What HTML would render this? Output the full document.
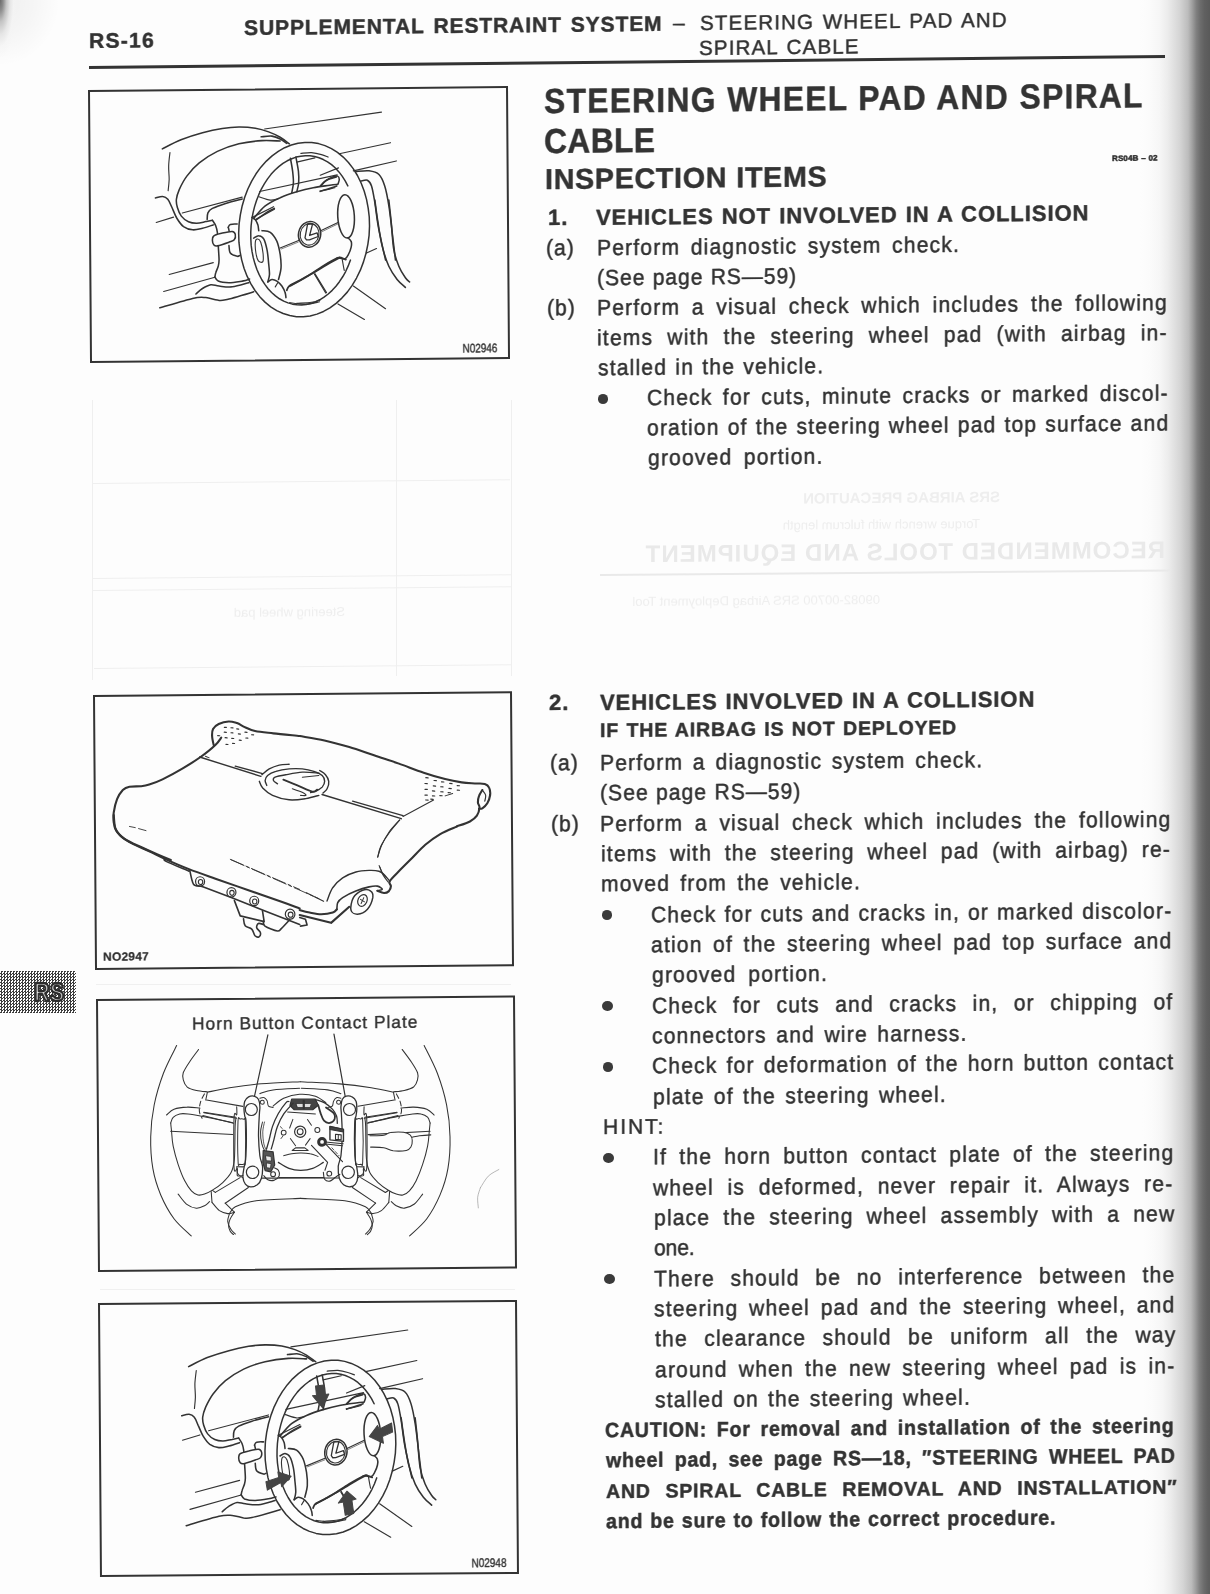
<!DOCTYPE html>
<html><head><meta charset="utf-8"><title>RS-16</title>
<style>
html,body{margin:0;padding:0;overflow:hidden;}
html{width:1210px;height:1594px;background:#fdfdfd;}
body{width:1210px;height:1594px;position:relative;background:#fdfdfd;font-family:"Liberation Sans",sans-serif;}
#pg{position:absolute;left:0;top:0;width:1210px;height:1594px;overflow:hidden;background:#fdfdfd;filter:grayscale(1);}
.t{position:absolute;white-space:pre;transform-origin:0 0;color:#333;-webkit-text-stroke:0.42px #333;}
.bl{position:absolute;width:10.6px;height:9.8px;border-radius:50%;background:#3a3a3a;}
.fig{position:absolute;border:2px solid #333;transform-origin:0 0;box-sizing:content-box;}
.fig svg{position:absolute;left:0;top:0;width:100%;height:100%;overflow:visible}
.rule{position:absolute;left:89.3px;top:66.1px;width:1076.2px;height:2.6px;background:#333;transform-origin:0 0;transform:matrix(1,-0.01013,0,1,0,0);}
.gut{position:absolute;left:1140px;top:-10px;width:90px;height:1620px;transform-origin:0 0;transform:matrix(1,0,0.0022,1,-0.6,0);background:linear-gradient(90deg,rgba(253,253,253,0) 0px,#fbfbfb 10px,#f6f6f6 20px,#ececec 28px,#d5d5d5 40px,#bcbcbc 48.5px,#a0a0a0 52.6px,#808080 56.8px,#6c6c6c 61px,#606060 65px,#5a5a5a 70px,#585858 90px);}
.cor{position:absolute;left:0;top:0;width:90px;height:100px;background:radial-gradient(ellipse 17px 58px at 0 0,#6a6a6a 0%,#8c8c8c 18%,#c4c4c4 38%,#e6e6e6 60%,rgba(244,244,244,.6) 80%,rgba(253,253,253,0) 100%),radial-gradient(ellipse 60px 66px at 0 0,rgba(0,0,0,.06) 0%,rgba(0,0,0,.03) 55%,rgba(0,0,0,0) 100%);}
.gh{position:absolute;color:#eeeeee;white-space:pre;transform-origin:0 0;}
.gl{position:absolute;background:#efefef;transform-origin:0 0;}
.tab{position:absolute;left:0;top:971.3px;width:76px;height:41.6px;background-color:#909090;background-image:repeating-conic-gradient(#3c3c3c 0% 25%,#fff 0% 50%);background-size:3px 3px;}
.tab svg{position:absolute;left:0;top:0;width:76px;height:41.6px;overflow:visible}
</style></head><body>
<div id="pg">
<div class="gut"></div>
<div class="cor"></div>
<div class="ghost" style="filter:blur(0.7px)">
<div class="gl" style="left:92px;top:483px;width:418px;height:1px;transform:matrix(1,-0.009,0,1,0,0)"></div>
<div class="gl" style="left:93px;top:578px;width:418px;height:1px;transform:matrix(1,-0.009,0,1,0,0)"></div>
<div class="gl" style="left:93px;top:590px;width:418px;height:1px;transform:matrix(1,-0.009,0,1,0,0)"></div>
<div class="gl" style="left:94px;top:668px;width:418px;height:1px;transform:matrix(1,-0.009,0,1,0,0)"></div>
<div class="gl" style="left:92px;top:400px;width:1px;height:280px"></div>
<div class="gl" style="left:396px;top:400px;width:1px;height:276px"></div>
<div class="gl" style="left:511px;top:400px;width:1px;height:276px"></div>
<div class="gl" style="left:600px;top:574px;width:570px;height:1.5px;transform:matrix(1,-0.008,0,1,0,0);background:#e9e9e9"></div>
<div class="gh" style="left:1165px;top:536px;font-size:24px;font-weight:bold;letter-spacing:1px;transform:matrix(-1,0.008,0,1,0,0);color:#e9e9e9">RECOMMENDED TOOLS AND EQUIPMENT</div>
<div class="gh" style="left:1000px;top:488px;font-size:15px;font-weight:bold;transform:matrix(-1,0.008,0,1,0,0)">SRS AIRBAG PRECAUTION</div>
<div class="gh" style="left:980px;top:516px;font-size:13px;transform:matrix(-1,0.008,0,1,0,0)">Torque wrench with fulcrum length</div>
<div class="gh" style="left:880px;top:592px;font-size:13px;transform:matrix(-1,0.008,0,1,0,0)">09082-00700 SRS Airbag Deployment Tool</div>
<div class="gh" style="left:345px;top:604px;font-size:13px;transform:matrix(-1,0.008,0,1,0,0)">Steering wheel pad</div>
<div class="gl" style="left:100px;top:1289px;width:415px;height:1px;background:#f0f0f0"></div>
<div class="gl" style="left:96px;top:984px;width:415px;height:1px;background:#f0f0f0"></div>
</div>
<div class="rule"></div>
<div class="fig" style="left:88.3px;top:89.9px;width:415.6px;height:269.0px;transform:matrix(1,-0.0096,0.0074,1,0,0)"><svg viewBox="0 0 415.6 269.0" stroke-linecap="round" stroke-linejoin="round"><path d="M278.0,146.0L276.7,155.0L274.8,163.9L272.2,172.5L269.0,180.8L265.1,188.6L260.7,195.9L255.8,202.6L250.3,208.5L244.5,213.7L238.3,218.2L231.9,221.7L225.3,224.3L218.5,226.1L211.6,226.8L204.8,226.7L198.1,225.5L191.5,223.4L185.1,220.4L179.1,216.6L173.4,211.8L168.2,206.3L163.5,200.1L159.3,193.2L155.7,185.7L152.7,177.7L150.4,169.3L148.8,160.5L147.8,151.6L147.6,142.5L148.1,133.4L149.4,124.3L151.3,115.4L153.9,106.8L157.1,98.5L161.0,90.7L165.4,83.4L170.3,76.8L175.8,70.8L181.6,65.6L187.8,61.2L194.2,57.6L200.9,55.0L207.6,53.3L214.5,52.5L221.3,52.7L228.1,53.8L234.6,55.9L241.0,58.9L247.0,62.8L252.7,67.5L257.9,73.0L262.6,79.2L266.8,86.1L270.4,93.6L273.4,101.6L275.7,110.0L277.3,118.8L278.3,127.7L278.5,136.8L278.0,146.0Z" fill="none" stroke="#333" stroke-width="1.5"/><path d="M259.2,170.6L256.9,176.4L254.3,182.0L251.3,187.2L248.0,192.1L244.5,196.6L240.7,200.7L236.7,204.3L232.5,207.4L228.2,210.0L223.7,212.1L219.2,213.6L214.6,214.6L210.0,215.0L205.4,214.8L200.8,214.1L196.4,212.8L192.1,211.0L187.9,208.6L183.9,205.7L180.1,202.3L176.6,198.4L173.4,194.1L170.4,189.4L167.8,184.3L165.5,178.9L163.6,173.2L162.0,167.2L160.8,161.0L160.0,154.7L159.7,148.3L159.7,141.8L160.1,135.3L160.9,128.8L162.1,122.4L163.7,116.2L165.7,110.1L168.0,104.3L170.6,98.7L173.6,93.5L176.9,88.6L180.4,84.1L184.2,80.1L188.2,76.5L192.4,73.3L196.7,70.7L201.2,68.7L205.7,67.1L210.3,66.2L214.9,65.8L219.5,65.9L224.1,66.6L228.5,67.9L232.8,69.8L237.0,72.1L241.0,75.0L244.8,78.4L248.3,82.3L251.5,86.6L254.5,91.3L257.1,96.4" fill="none" stroke="#333" stroke-width="1.5"/><path d="M71.9,57.6C75.0,56.1 83.9,51.3 90.6,48.7C97.4,46.1 105.3,43.7 112.2,41.9C119.1,40.1 126.0,38.7 132.0,37.8C138.1,36.9 143.1,36.5 148.6,36.5C154.1,36.5 160.2,37.0 165.1,37.8C170.1,38.6 174.2,40.0 178.3,41.6C182.4,43.1 186.4,45.1 189.8,47.1C193.3,49.2 197.4,52.7 198.9,53.8" fill="none" stroke="#333" stroke-width="1.55" /><path d="M170.8,46.5C172.6,46.4 178.4,45.5 181.6,45.9C184.7,46.3 187.3,47.5 189.8,48.8C192.3,50.0 195.3,52.6 196.4,53.3" fill="none" stroke="#333" stroke-width="1.55" /><path d="M189.8,50.9C186.8,50.8 178.5,49.9 171.6,50.3C164.7,50.7 155.9,51.6 148.5,53.3C141.0,55.1 133.6,57.5 126.9,60.6C120.3,63.7 113.8,67.9 108.7,72.0C103.5,76.1 99.5,80.7 96.2,85.1C92.8,89.5 90.4,94.4 88.6,98.2C86.9,102.1 85.9,105.1 85.6,108.1C85.2,111.1 85.7,113.6 86.5,116.4C87.3,119.2 88.6,122.6 90.4,125.0C92.2,127.4 94.9,129.5 97.5,130.7C100.0,131.9 102.8,132.3 105.7,132.3C108.6,132.3 112.2,131.2 114.8,130.7C117.5,130.2 120.4,129.7 121.5,129.5" fill="none" stroke="#333" stroke-width="1.55" /><path d="M64.6,106.6C65.8,106.4 70.0,104.9 72.0,105.2C74.1,105.4 75.5,106.2 77.0,108.0C78.5,109.9 79.6,113.2 81.1,116.3C82.5,119.5 84.0,123.9 85.9,127.1C87.8,130.3 89.9,133.5 92.5,135.5C95.1,137.4 98.4,138.5 101.6,138.8C104.7,139.2 108.0,138.1 111.5,137.3C114.9,136.5 120.5,134.6 122.2,134.1" fill="none" stroke="#333" stroke-width="1.55" /><path d="M79.5,61.4C79.2,63.7 78.2,70.5 78.1,75.0C77.9,79.4 78.6,84.1 78.5,88.2C78.3,92.3 77.6,97.6 77.4,99.4" fill="none" stroke="#333" stroke-width="1.15" /><path d="M91.4,121.9L151.4,106.6" fill="none" stroke="#333" stroke-width="1.15" /><path d="M168.8,101.1L246.6,85.2" fill="none" stroke="#333" stroke-width="1.15" /><path d="M116.2,128.6C116.3,127.5 116.2,123.8 117.0,122.0C117.9,120.1 118.6,119.1 121.5,117.6C124.5,116.0 129.8,114.2 134.8,112.7C139.8,111.2 148.6,109.1 151.4,108.4" fill="none" stroke="#333" stroke-width="1.55" /><path d="M65.2,131.1L82.6,125.9" fill="none" stroke="#333" stroke-width="1.15" /><path d="M121.5,129.5C122.0,130.4 123.9,132.9 124.7,134.9C125.5,137.0 125.9,138.3 126.3,141.6C126.7,144.9 126.8,150.2 127.1,154.8C127.3,159.4 127.8,165.9 127.8,169.3C127.7,172.8 127.5,173.3 126.9,175.5C126.3,177.6 124.9,180.3 124.4,182.0C123.8,183.8 123.7,185.5 123.5,186.2" fill="none" stroke="#333" stroke-width="1.55" /><path d="M137.1,136.7C137.5,136.2 137.8,134.3 139.3,133.8C140.8,133.2 145.1,133.5 146.2,133.5" fill="none" stroke="#333" stroke-width="1.55" /><path d="M137.4,137.0L138.2,140.9" fill="none" stroke="#333" stroke-width="1.55" /><path d="M137.8,154.9C138.0,156.1 137.7,160.5 139.1,162.3C140.4,164.2 144.4,165.3 146.0,165.7C147.5,166.1 148.1,165.1 148.5,164.9" fill="none" stroke="#333" stroke-width="1.55" /><path d="M121.3,149.8C121.3,148.3 121.0,146.4 122.7,145.2C124.3,143.9 128.2,143.2 131.3,142.4C134.4,141.7 139.1,140.7 141.2,140.9C143.4,141.1 143.8,142.3 144.2,143.7C144.5,145.1 144.2,147.9 143.1,149.2C142.1,150.5 140.6,150.6 137.8,151.6C135.0,152.6 128.8,154.7 126.2,155.1C123.7,155.5 123.4,154.8 122.6,153.9C121.8,153.0 121.3,151.2 121.3,149.8Z" fill="#fdfdfd" stroke="#333" stroke-width="1.55" /><path d="M199.9,68.2C200.3,70.4 201.5,77.1 202.0,81.1C202.4,85.2 202.9,89.1 202.7,92.7C202.6,96.3 201.3,101.0 201.0,102.6" fill="none" stroke="#333" stroke-width="1.55" /><path d="M205.4,67.1C205.8,69.5 207.3,76.9 207.8,81.2C208.2,85.5 208.3,89.3 208.0,92.8C207.7,96.2 206.3,100.3 206.0,101.8" fill="none" stroke="#333" stroke-width="1.55" /><path d="M210.4,63.4C212.2,63.3 217.7,62.6 221.1,62.8C224.6,63.1 228.3,64.1 231.0,64.9C233.8,65.7 236.5,67.0 237.6,67.4" fill="none" stroke="#333" stroke-width="1.15" /><path d="M162.8,127.9C164.7,125.8 170.0,119.0 174.4,115.6C178.9,112.2 184.1,109.7 189.4,107.5C194.6,105.2 200.4,103.4 206.0,101.8C211.5,100.2 217.0,98.9 222.5,97.9C228.0,96.8 235.1,96.1 239.1,95.5C243.1,95.0 245.3,94.9 246.5,94.8" fill="none" stroke="#333" stroke-width="1.6" /><path d="M165.3,129.5C166.8,128.5 171.4,124.9 174.4,123.0C177.4,121.1 182.0,119.0 183.5,118.1" fill="none" stroke="#333" stroke-width="1.55" /><path d="M229.1,101.2C230.5,101.0 234.9,100.2 237.4,99.7C239.9,99.1 242.9,98.3 244.0,98.1" fill="none" stroke="#333" stroke-width="1.15" /><path d="M230.0,96.3C230.9,95.3 233.2,92.0 235.8,90.5C238.4,89.1 244.1,87.9 245.7,87.3" fill="none" stroke="#333" stroke-width="1.55" /><path d="M168.2,106.4C170.1,107.0 176.3,109.5 179.5,109.8C182.6,110.2 185.7,108.9 186.9,108.8" fill="none" stroke="#333" stroke-width="1.15" /><path d="M206.2,72.1L224.4,68.1" fill="none" stroke="#333" stroke-width="1.15" /><path d="M174.3,38.7L291.3,23.0" fill="none" stroke="#333" stroke-width="1.15" /><path d="M248.8,64.2L300.1,53.6" fill="none" stroke="#333" stroke-width="1.15" /><path d="M262.7,81.4L305.8,71.9" fill="none" stroke="#333" stroke-width="1.15" /><path d="M229.6,96.3C230.4,95.5 232.5,92.9 234.5,91.4C236.6,89.9 239.9,88.1 242.0,87.3C244.1,86.5 245.9,86.1 247.0,86.5C248.1,86.9 248.6,88.5 248.6,89.8C248.7,91.2 247.5,93.7 247.3,94.5" fill="none" stroke="#333" stroke-width="1.55" /><path d="M229.5,101.6C231.0,101.1 235.9,99.7 238.6,98.8C241.4,98.0 244.8,96.8 246.1,96.4" fill="none" stroke="#333" stroke-width="1.55" /><ellipse cx="255.1" cy="126.8" rx="8.3" ry="21.7" transform="rotate(-3 255.1 126.8)" fill="none" stroke="#333" stroke-width="1.55"/><path d="M270.1,91.7C271.2,91.6 274.9,90.1 276.7,90.9C278.5,91.8 279.6,93.0 280.8,96.8C282.0,100.5 282.9,106.7 284.0,113.3C285.0,119.9 285.9,129.3 287.1,136.5C288.3,143.7 289.9,150.6 291.1,156.4C292.3,162.1 293.8,168.5 294.3,170.9" fill="none" stroke="#333" stroke-width="1.55" /><path d="M265.2,82.1C267.4,82.0 274.6,81.0 278.4,81.5C282.3,82.1 285.7,82.7 288.3,85.3C290.9,87.8 292.4,91.6 294.0,96.9C295.6,102.1 296.8,109.0 298.0,116.8C299.2,124.5 300.1,134.2 301.1,143.2C302.1,152.3 303.7,166.4 304.2,171.0" fill="none" stroke="#333" stroke-width="1.55" /><path d="M123.5,186.2C124.1,186.9 124.5,189.3 126.8,190.3C129.1,191.3 133.5,192.0 137.5,192.1C141.5,192.1 147.3,191.1 150.8,190.6C154.2,190.0 157.0,189.0 158.2,188.6" fill="none" stroke="#333" stroke-width="1.55" /><path d="M77.8,183.2L122.0,171.8" fill="none" stroke="#333" stroke-width="1.15" /><path d="M72.2,200.2L123.5,186.5" fill="none" stroke="#333" stroke-width="1.15" /><path d="M68.2,216.5C73.7,215.0 93.4,209.1 101.0,207.4C108.7,205.8 110.1,206.4 114.3,206.7C118.4,207.1 122.5,208.9 125.8,209.3C129.1,209.7 128.0,210.4 134.1,209.1C140.2,207.8 157.6,202.7 162.2,201.4" fill="none" stroke="#333" stroke-width="1.55" /><path d="M104.4,203.0C105.5,202.1 108.5,199.1 111.0,197.6C113.5,196.1 116.6,194.3 119.3,193.9C122.1,193.5 124.0,194.9 127.6,195.3C131.2,195.7 135.8,196.8 140.8,196.2C145.8,195.7 154.6,192.9 157.4,192.3" fill="none" stroke="#333" stroke-width="1.55" /><path d="M171.0,140.3C172.3,140.6 176.7,140.3 179.2,142.1C181.7,143.9 184.1,147.5 185.8,151.2C187.4,155.0 188.3,160.1 189.0,164.5C189.6,168.9 190.0,173.6 189.7,177.7C189.4,181.8 187.6,187.3 187.1,189.3" fill="none" stroke="#333" stroke-width="1.55" /><path d="M162.6,147.7C163.5,147.3 166.0,145.1 167.6,145.3C169.3,145.4 171.2,146.3 172.6,148.6C173.9,151.0 175.0,155.4 175.8,159.4C176.6,163.4 177.0,168.5 177.3,172.6C177.7,176.8 178.2,181.0 178.1,184.2C177.9,187.4 176.7,190.4 176.4,191.6" fill="none" stroke="#333" stroke-width="1.55" /><path d="M164.3,151.0C163.9,153.4 164.2,159.3 164.7,162.6C165.2,165.8 166.0,169.1 167.1,170.5C168.2,172.0 170.8,172.6 171.6,171.3C172.3,169.9 172.1,165.9 171.8,162.7C171.5,159.4 170.4,154.2 169.6,151.9C168.7,149.5 167.6,148.7 166.8,148.6C165.9,148.4 164.6,148.7 164.3,151.0Z" fill="none" stroke="#333" stroke-width="1.1" /><path d="M161.1,127.0C161.7,127.4 163.5,128.3 164.4,129.5C165.4,130.8 166.3,132.7 166.9,134.5C167.4,136.3 167.5,139.3 167.7,140.3" fill="none" stroke="#333" stroke-width="1.55" /><path d="M176.4,191.6C177.1,191.2 179.0,189.3 180.5,189.2C182.0,189.1 183.8,189.8 185.5,190.9C187.1,192.0 189.0,194.0 190.4,195.9C191.7,197.8 193.0,200.6 193.6,202.5C194.3,204.5 194.3,206.7 194.4,207.5" fill="none" stroke="#333" stroke-width="1.55" /><path d="M183.8,196.7L186.3,192.6" fill="none" stroke="#333" stroke-width="1.15" /><path d="M195.3,200.1C195.7,199.4 195.9,197.5 197.8,196.0C199.8,194.5 202.7,193.4 206.9,191.1C211.2,188.8 218.3,185.1 223.5,182.2C228.8,179.2 234.3,175.6 238.5,173.2C242.6,170.9 246.8,168.9 248.4,168.0" fill="none" stroke="#333" stroke-width="1.8" /><path d="M205.1,213.4C207.6,213.2 216.2,212.9 220.0,212.4C223.9,211.9 226.9,210.7 228.3,210.3" fill="none" stroke="#333" stroke-width="1.15" /><path d="M223.5,183.8L235.0,202.9" fill="none" stroke="#333" stroke-width="1.15" /><path d="M189.0,157.9L208.1,150.3" fill="none" stroke="#333" stroke-width="1.15" /><path d="M190.0,158.9L207.2,152.1" fill="none" stroke="#333" stroke-width="0.6" /><path d="M229.6,140.9L247.0,132.8" fill="none" stroke="#333" stroke-width="1.15" /><path d="M230.5,142.1L247.0,134.3" fill="none" stroke="#333" stroke-width="0.6" /><ellipse cx="218.5" cy="144.4" rx="11.1" ry="12.9" transform="rotate(12 218.5 144.4)" fill="#fdfdfd" stroke="#333" stroke-width="1.5"/><ellipse cx="218.5" cy="144.4" rx="9.3" ry="10.9" transform="rotate(12 218.5 144.4)" fill="none" stroke="#333" stroke-width="1.1"/><path d="M216.5,134.5L221.6,134.0L218.5,145.6L226.0,143.0L227.1,146.7L218.3,149.9L215.4,150.0L213.9,147.9Z" fill="none" stroke="#333" stroke-width="1.3" /><path d="M161.1,127.0L182.7,116.5" fill="none" stroke="#333" stroke-width="1.2" /><path d="M164.4,129.2L183.5,119.0" fill="none" stroke="#333" stroke-width="1.2" /><path d="M256.8,148.3C257.3,148.9 259.5,150.4 260.0,151.9C260.6,153.5 260.5,155.5 260.0,157.7C259.5,159.9 258.2,163.2 257.1,165.1C256.1,167.1 255.3,168.7 253.8,169.2C252.3,169.8 249.4,168.4 248.0,168.4C246.6,168.3 246.0,168.6 245.5,168.7" fill="none" stroke="#333" stroke-width="1.55" /><path d="M198.2,196.0C201.0,194.5 209.3,190.3 214.8,187.0C220.4,183.8 226.2,179.6 231.4,176.5C236.7,173.3 243.1,169.6 246.4,168.3C249.7,167.0 250.0,168.4 251.3,168.7C252.7,169.0 254.1,169.8 254.6,170.1" fill="none" stroke="#333" stroke-width="1.8" /><path d="M223.1,184.3L234.2,203.3" fill="none" stroke="#333" stroke-width="1.15" /><path d="M251.0,170.0C251.2,171.1 251.8,174.9 252.1,176.7C252.4,178.4 252.8,180.1 252.9,180.8" fill="none" stroke="#333" stroke-width="1.15" /><path d="M198.1,212.5C199.8,212.7 204.7,213.7 208.0,213.9C211.3,214.2 214.6,214.3 217.9,214.0C221.2,213.7 226.2,212.3 227.9,212.0" fill="none" stroke="#333" stroke-width="1.15" /><path d="M284.0,110.8C284.5,114.7 285.9,126.3 287.1,134.0C288.3,141.7 289.3,150.0 291.1,157.2C292.8,164.4 295.1,171.6 297.5,177.1C300.0,182.6 303.0,186.8 305.7,190.4C308.4,193.9 312.6,197.1 313.9,198.4" fill="none" stroke="#333" stroke-width="1.55" /><path d="M298.0,111.0C298.4,114.8 299.6,125.9 300.3,134.1C301.1,142.4 301.4,153.4 302.6,160.6C303.8,167.8 305.6,172.5 307.5,177.2C309.4,181.9 312.2,186.2 314.0,188.8C315.8,191.5 317.4,192.3 318.1,193.0" fill="none" stroke="#333" stroke-width="1.55" /><path d="M274.8,164.0L285.3,159.3" fill="none" stroke="#333" stroke-width="1.15" /><path d="M261.9,196.6L293.9,219.5" fill="none" stroke="#333" stroke-width="1.15" /><path d="M246.4,214.3L272.7,230.1" fill="none" stroke="#333" stroke-width="1.15" /><path d="M229.6,85.5L247.9,78.3" fill="none" stroke="#333" stroke-width="1.15" /><text x="0" y="0" transform="translate(370.5,264.1) scale(0.8,1)" font-family="Liberation Sans, sans-serif" font-size="12.5"  letter-spacing="0" fill="#333" stroke="#333" stroke-width="0.35" text-anchor="start">N02946</text></svg></div>
<div class="fig" style="left:93.3px;top:695.0px;width:415.4px;height:270.9px;transform:matrix(1,-0.0091,0.0073,1,0,0)"><svg viewBox="0 0 415.4 270.9" stroke-linecap="round" stroke-linejoin="round"><path d="M125.9,41.8C124.9,43.1 123.5,45.9 120.0,49.1C116.6,52.3 110.6,57.1 105.1,61.0C99.5,64.9 93.2,68.7 86.8,72.4C80.4,76.1 72.4,80.3 66.9,83.0C61.4,85.6 57.2,87.0 53.6,88.1C50.0,89.3 48.7,89.4 45.4,89.7C42.0,90.0 36.8,89.5 33.8,90.1C30.7,90.7 29.2,91.3 27.1,93.3C25.1,95.4 22.8,98.7 21.3,102.4C19.8,106.1 18.5,111.7 17.9,115.6C17.3,119.4 17.4,122.5 17.8,125.5C18.2,128.5 18.5,131.0 20.2,133.8C22.0,136.6 24.3,139.3 28.4,142.1C32.6,144.9 39.4,147.9 44.9,150.5C50.4,153.2 56.4,155.9 61.4,158.1C66.3,160.3 72.4,162.8 74.6,163.7" fill="none" stroke="#333" stroke-width="2.1" /><path d="M118.4,49.5C118.1,48.0 116.9,43.2 116.8,40.4C116.7,37.7 116.7,35.1 117.8,33.0C118.9,31.0 120.9,29.3 123.5,28.1C126.1,26.9 130.4,25.8 133.4,25.7C136.5,25.6 138.9,26.5 141.7,27.4C144.4,28.4 146.9,30.3 149.9,31.7C152.9,33.0 155.1,34.5 159.8,35.5C164.5,36.6 170.5,37.1 178.0,38.0C185.4,38.9 200.0,40.4 204.4,40.9" fill="none" stroke="#333" stroke-width="2.1" /><path d="M104.2,61.0L165.3,80.9" fill="none" stroke="#333" stroke-width="1.4" /><path d="M139.7,70.4L166.9,78.1" fill="none" stroke="#333" stroke-width="1.4" /><path d="M110.0,60.2L113.7,61.9" fill="none" stroke="#333" stroke-width="1.0" /><path d="M129.1,31.5L131.1,31.6" fill="none" stroke="#333" stroke-width="1.2" /><path d="M135.7,32.0L137.7,32.2" fill="none" stroke="#333" stroke-width="1.2" /><path d="M141.5,33.2L143.4,33.4" fill="none" stroke="#333" stroke-width="1.2" /><path d="M129.0,36.4L131.0,36.6" fill="none" stroke="#333" stroke-width="1.2" /><path d="M135.7,37.0L137.6,37.2" fill="none" stroke="#333" stroke-width="1.2" /><path d="M143.1,38.2L145.1,38.4" fill="none" stroke="#333" stroke-width="1.2" /><path d="M149.7,36.6L151.7,36.8" fill="none" stroke="#333" stroke-width="1.2" /><path d="M156.3,39.2L158.3,39.3" fill="none" stroke="#333" stroke-width="1.2" /><path d="M129.8,41.9L131.8,42.1" fill="none" stroke="#333" stroke-width="1.2" /><path d="M136.4,42.6L138.4,42.8" fill="none" stroke="#333" stroke-width="1.2" /><path d="M143.9,44.5L145.8,44.7" fill="none" stroke="#333" stroke-width="1.2" /><path d="M150.5,42.4L152.5,42.6" fill="none" stroke="#333" stroke-width="1.2" /><path d="M130.6,48.5L132.6,48.7" fill="none" stroke="#333" stroke-width="1.2" /><path d="M137.2,47.6L139.2,47.8" fill="none" stroke="#333" stroke-width="1.2" /><path d="M122.4,39.7L124.4,39.9" fill="none" stroke="#333" stroke-width="1.2" /><path d="M33.5,129.8L39.3,131.0" fill="none" stroke="#333" stroke-width="0.9" /><path d="M42.6,132.0L50.0,134.1" fill="none" stroke="#333" stroke-width="0.9" /><path d="M204.4,40.9C208.5,41.7 220.9,43.7 229.1,45.6C237.4,47.5 245.6,49.9 253.9,52.4C262.1,55.0 270.4,58.1 278.6,60.9C286.9,63.8 295.1,66.4 303.4,69.4C311.6,72.4 320.4,76.1 328.1,78.7C335.8,81.4 343.2,83.6 349.5,85.2C355.8,86.9 361.1,87.9 366.0,88.7C371.0,89.5 375.4,89.6 379.2,89.9C383.1,90.3 386.8,89.8 389.1,90.5C391.5,91.2 392.6,92.3 393.4,94.2C394.3,96.1 394.7,99.0 394.4,101.6C394.0,104.3 392.8,107.7 391.5,109.9C390.2,112.1 387.9,113.9 386.5,114.8C385.1,115.7 383.7,115.2 383.2,115.3" fill="none" stroke="#333" stroke-width="2.1" /><path d="M386.6,96.6C386.1,97.6 384.0,100.3 383.3,102.4C382.5,104.4 382.0,107.0 382.1,109.0C382.1,110.9 383.9,111.7 383.7,113.9C383.5,116.1 382.6,119.9 381.0,122.2C379.4,124.5 377.4,126.1 374.0,127.9C370.6,129.7 363.0,131.9 360.7,132.7" fill="none" stroke="#333" stroke-width="2.1" /><path d="M386.6,96.6C387.2,97.5 389.5,99.8 389.9,101.6C390.3,103.5 389.2,106.7 389.0,107.7" fill="none" stroke="#333" stroke-width="1.2" /><path d="M226.3,99.6L305.4,124.5" fill="none" stroke="#333" stroke-width="1.4" /><path d="M256.8,106.5L307.1,121.5" fill="none" stroke="#333" stroke-width="1.4" /><path d="M307.1,122.3L337.8,106.1" fill="none" stroke="#333" stroke-width="1.1" /><path d="M303.8,125.6C302.0,127.7 296.0,133.7 292.9,137.9C289.9,142.2 287.3,147.0 285.4,151.1C283.5,155.2 282.2,160.7 281.5,162.6" fill="none" stroke="#333" stroke-width="1.1" /><path d="M330.2,83.7L332.5,83.9" fill="none" stroke="#333" stroke-width="1.2" /><path d="M338.4,86.6L340.7,86.8" fill="none" stroke="#333" stroke-width="1.2" /><path d="M345.9,88.0L348.2,88.2" fill="none" stroke="#333" stroke-width="1.2" /><path d="M354.1,89.7L356.4,89.9" fill="none" stroke="#333" stroke-width="1.2" /><path d="M361.5,91.9L363.8,92.1" fill="none" stroke="#333" stroke-width="1.2" /><path d="M329.3,89.5L331.6,89.7" fill="none" stroke="#333" stroke-width="1.2" /><path d="M337.6,92.0L339.9,92.2" fill="none" stroke="#333" stroke-width="1.2" /><path d="M345.0,92.9L347.3,93.1" fill="none" stroke="#333" stroke-width="1.2" /><path d="M353.3,94.7L355.6,94.8" fill="none" stroke="#333" stroke-width="1.2" /><path d="M361.5,96.4L363.8,96.6" fill="none" stroke="#333" stroke-width="1.2" /><path d="M329.3,95.3L331.6,95.5" fill="none" stroke="#333" stroke-width="1.2" /><path d="M336.7,97.0L339.0,97.2" fill="none" stroke="#333" stroke-width="1.2" /><path d="M345.0,97.9L347.3,98.1" fill="none" stroke="#333" stroke-width="1.2" /><path d="M352.4,98.8L354.7,99.0" fill="none" stroke="#333" stroke-width="1.2" /><path d="M329.2,101.1L331.5,101.2" fill="none" stroke="#333" stroke-width="1.2" /><path d="M336.7,101.9L339.0,102.1" fill="none" stroke="#333" stroke-width="1.2" /><path d="M344.1,101.7L346.4,101.9" fill="none" stroke="#333" stroke-width="1.2" /><path d="M330.0,106.0L332.3,106.2" fill="none" stroke="#333" stroke-width="1.2" /><path d="M335.0,105.2L337.3,105.4" fill="none" stroke="#333" stroke-width="1.2" /><path d="M349.4,102.1L356.9,99.7" fill="none" stroke="#333" stroke-width="1.0" /><path d="M163.7,85.8C164.3,86.9 164.8,90.1 167.0,92.5C169.2,94.8 172.5,98.0 176.8,100.0C181.2,102.0 187.8,104.0 193.3,104.6C198.8,105.2 204.9,104.3 209.9,103.6C214.8,102.9 220.9,101.0 223.1,100.4" fill="none" stroke="#333" stroke-width="1.4" /><path d="M166.3,79.2C167.5,78.3 170.8,75.1 173.7,73.5C176.6,72.0 180.4,70.6 183.7,69.8C187.0,69.1 191.9,69.2 193.6,69.1" fill="none" stroke="#333" stroke-width="1.4" /><path d="M224.1,75.6C225.1,76.3 228.4,78.0 229.9,79.8C231.4,81.6 232.9,84.1 233.1,86.5C233.4,88.8 232.4,92.0 231.4,93.9C230.5,95.8 228.0,97.3 227.3,98.0" fill="none" stroke="#333" stroke-width="1.4" /><path d="M171.1,90.0C170.9,89.2 169.4,86.7 169.5,85.1C169.7,83.4 170.2,81.6 172.0,80.1C173.8,78.6 176.7,77.1 180.3,76.1C183.9,75.0 189.2,74.1 193.6,73.7C198.0,73.3 202.7,73.4 206.8,73.8C210.9,74.3 215.0,75.3 218.3,76.4C221.6,77.5 224.8,78.9 226.6,80.6C228.4,82.3 229.0,84.5 229.0,86.4C229.0,88.4 228.0,90.5 226.5,92.2C225.0,93.8 221.8,95.4 219.9,96.3C217.9,97.1 215.7,97.3 214.9,97.5" fill="none" stroke="#333" stroke-width="1.4" /><path d="M181.9,88.5C181.2,87.9 178.2,86.2 177.8,85.1C177.4,84.0 177.4,82.8 179.5,81.8C181.5,80.9 185.7,80.2 190.2,79.5C194.8,78.7 201.3,77.4 206.8,77.1C212.3,76.9 220.5,77.9 223.3,78.1" fill="none" stroke="#333" stroke-width="1.3" /><path d="M187.7,84.4C190.0,85.4 196.9,88.3 201.7,90.3C206.5,92.3 213.2,95.8 216.5,96.6C219.8,97.3 220.7,94.9 221.5,94.6" fill="none" stroke="#333" stroke-width="1.8" /><path d="M206.7,82.1L223.3,80.6" fill="none" stroke="#333" stroke-width="1.0" /><path d="M196.7,93.6C198.7,94.3 206.1,97.0 208.3,98.1C210.5,99.3 210.5,100.1 209.9,100.5C209.3,100.8 205.8,100.3 204.9,100.3" fill="none" stroke="#333" stroke-width="1.2" /><path d="M282.9,171.2C283.6,172.9 285.5,178.4 287.0,181.2C288.5,183.9 291.1,186.7 291.9,187.8" fill="none" stroke="#333" stroke-width="1.1" /><path d="M135.1,164.1L222.4,203.7" fill="none" stroke="#333" stroke-width="0.9" stroke-dasharray="14 3 3 3"/><path d="M17.9,118.2C18.1,120.4 18.2,127.9 19.4,131.5C20.6,135.1 22.3,137.1 25.2,139.8C28.0,142.4 32.0,144.8 36.7,147.3C41.3,149.8 47.7,152.3 53.1,154.9C58.6,157.5 63.0,160.0 69.6,163.0C76.2,166.0 84.4,169.7 92.7,173.0C100.9,176.3 109.2,179.2 119.1,182.8C128.9,186.4 141.0,190.7 152.0,194.6C163.0,198.6 176.5,203.4 185.0,206.5C193.5,209.6 200.1,212.2 203.1,213.3" fill="none" stroke="#333" stroke-width="2.1" /><path d="M68.8,162.5C69.0,162.9 65.9,162.9 69.9,165.0C73.9,167.1 88.9,173.4 92.7,175.1" fill="none" stroke="#333" stroke-width="1.6" /><path d="M93.5,174.3C93.9,176.1 95.1,182.6 95.9,185.0C96.7,187.5 96.7,188.3 98.3,189.2C100.0,190.1 104.5,190.2 105.8,190.4" fill="none" stroke="#333" stroke-width="1.6" /><path d="M105.8,190.4L135.4,201.9L168.4,215.5L203.0,229.3" fill="none" stroke="#333" stroke-width="1.6" /><ellipse cx="103.7" cy="185.4" rx="4.5" ry="4.7" transform="rotate(0 103.7 185.4)" fill="none" stroke="#333" stroke-width="1.2"/><ellipse cx="104.2" cy="185.9" rx="2.2" ry="2.5" transform="rotate(0 104.2 185.9)" fill="none" stroke="#333" stroke-width="1.1"/><ellipse cx="135.0" cy="196.6" rx="4.5" ry="4.7" transform="rotate(0 135.0 196.6)" fill="none" stroke="#333" stroke-width="1.2"/><ellipse cx="135.5" cy="197.1" rx="2.2" ry="2.5" transform="rotate(0 135.5 197.1)" fill="none" stroke="#333" stroke-width="1.1"/><ellipse cx="157.7" cy="205.4" rx="4.5" ry="4.7" transform="rotate(0 157.7 205.4)" fill="none" stroke="#333" stroke-width="1.2"/><ellipse cx="158.2" cy="205.9" rx="2.2" ry="2.5" transform="rotate(0 158.2 205.9)" fill="none" stroke="#333" stroke-width="1.1"/><ellipse cx="193.5" cy="219.0" rx="4.8" ry="5.0" transform="rotate(0 193.5 219.0)" fill="none" stroke="#333" stroke-width="1.2"/><ellipse cx="194.0" cy="219.5" rx="2.4" ry="2.6" transform="rotate(0 194.0 219.5)" fill="none" stroke="#333" stroke-width="1.1"/><path d="M137.9,204.9L143.6,220.2L167.5,226.2L165.9,215.4" fill="none" stroke="#333" stroke-width="1.6" /><path d="M146.9,223.2C147.1,224.4 147.1,228.4 148.5,230.2C149.8,231.9 153.4,231.9 155.0,233.5C156.7,235.2 157.1,238.9 158.3,240.2C159.5,241.4 161.5,241.7 162.4,241.2C163.3,240.6 164.0,238.4 163.6,236.9C163.2,235.4 160.3,233.7 160.0,232.2C159.7,230.8 160.6,228.5 161.7,228.0C162.8,227.4 165.8,228.8 166.7,229.0" fill="none" stroke="#333" stroke-width="1.6" /><path d="M166.7,225.7C166.9,226.5 166.0,229.0 168.3,230.7C170.6,232.3 177.9,235.4 180.7,235.7C183.4,236.1 182.7,234.8 184.8,233.0C186.9,231.1 191.7,225.9 193.1,224.4" fill="none" stroke="#333" stroke-width="1.6" /><path d="M134.1,163.6L203.3,194.3" fill="none" stroke="#333" stroke-width="0.9" stroke-dasharray="14 3 3 3"/><text x="0" y="0" transform="translate(6.1,263.9) scale(1.0,1)" font-family="Liberation Sans, sans-serif" font-size="12" font-weight="bold" letter-spacing="0.2" fill="#333" stroke="#333" stroke-width="0.2" text-anchor="start">NO2947</text><path d="M360.7,132.9C358.0,134.1 349.4,137.2 344.2,140.2C338.9,143.2 333.9,146.9 329.2,150.8C324.5,154.8 320.0,159.8 315.9,163.9C311.7,168.0 308.0,171.6 304.2,175.4C300.5,179.2 295.0,184.1 293.4,186.8C291.8,189.6 294.7,190.2 294.5,191.8C294.4,193.5 293.7,195.6 292.5,196.8C291.3,197.9 289.5,198.8 287.5,198.7C285.6,198.6 282.0,196.7 280.9,196.3" fill="none" stroke="#333" stroke-width="2.1" /><path d="M203.1,214.9C204.8,215.4 209.4,216.8 213.0,217.5C216.6,218.2 220.7,219.2 224.6,219.3C228.4,219.3 233.5,218.5 236.2,217.7C238.8,216.9 239.6,215.0 240.3,214.5" fill="none" stroke="#333" stroke-width="2.1" /><path d="M203.1,219.9L234.4,228.0L252.7,212.1" fill="none" stroke="#333" stroke-width="2.1" /><path d="M203.1,222.4L208.8,224.1L210.4,229.9L203.8,231.0" fill="none" stroke="#333" stroke-width="1.6" /><path d="M230.5,206.1C231.4,203.9 233.7,196.8 236.3,192.9C239.0,189.1 242.4,185.7 246.3,183.1C250.2,180.5 255.2,178.6 259.6,177.4C264.0,176.2 269.0,176.0 272.8,175.9C276.7,175.8 280.3,176.1 282.7,176.8C285.2,177.5 285.9,178.5 287.7,180.2C289.4,181.9 292.4,185.7 293.4,186.8" fill="none" stroke="#333" stroke-width="1.4" /><path d="M240.3,214.5C240.5,213.4 240.2,209.8 241.2,207.9C242.2,205.9 243.1,204.8 246.2,202.9C249.2,201.0 255.0,198.2 259.4,196.5C263.9,194.7 269.1,193.2 272.7,192.4C276.3,191.6 278.8,191.3 281.0,191.7C283.2,192.1 285.9,194.3 285.9,195.0C285.9,195.8 281.8,196.1 280.9,196.3" fill="none" stroke="#333" stroke-width="1.6" /><path d="M209.9,197.7L227.1,206.4" fill="none" stroke="#333" stroke-width="1.1" /><path d="M254.4,215.4C253.7,212.7 255.0,206.3 256.9,203.0C258.9,199.8 263.2,196.8 266.1,195.7C269.0,194.6 272.6,195.3 274.3,196.6C276.0,197.8 276.8,200.2 276.3,203.2C275.7,206.2 273.4,212.0 270.9,214.7C268.3,217.5 263.7,219.5 260.9,219.6C258.2,219.7 255.0,218.2 254.4,215.4Z" fill="#fdfdfd" stroke="#333" stroke-width="1.5" /><ellipse cx="266.0" cy="205.9" rx="4.5" ry="6.1" transform="rotate(25 266.0 205.9)" fill="none" stroke="#333" stroke-width="1.2"/><path d="M264.0,204.8L268.0,207.3" fill="none" stroke="#333" stroke-width="1.0" /><path d="M267.3,203.1L264.6,208.9" fill="none" stroke="#333" stroke-width="1.0" /><path d="M283.6,172.7C284.0,173.7 285.1,176.9 286.0,178.5C287.0,180.2 288.8,182.0 289.3,182.7" fill="none" stroke="#333" stroke-width="1.1" /><path d="M303.8,125.8C302.0,128.0 296.1,134.5 292.9,138.9C289.7,143.3 286.5,148.1 284.6,152.1C282.7,156.0 282.0,161.0 281.5,162.8" fill="none" stroke="#333" stroke-width="1.1" /></svg></div>
<div class="fig" style="left:95.8px;top:999.2px;width:415.4px;height:268.8px;transform:matrix(1,-0.0084,0.0073,1,0,0)"><svg viewBox="0 0 415.4 268.8" stroke-linecap="round" stroke-linejoin="round"><text x="0" y="0" transform="translate(93.8,29.4) scale(1.0,1)" font-family="Liberation Sans, sans-serif" font-size="17.3"  letter-spacing="1.02" fill="#333" stroke="#333" stroke-width="0.35" text-anchor="start">Horn Button Contact Plate</text><path d="M169.6,35.4L153.2,108.0" fill="none" stroke="#333" stroke-width="1.2" /><path d="M235.7,35.1L248.4,108.8" fill="none" stroke="#333" stroke-width="1.2" /><path d="M78.3,45.2C76.1,49.8 68.7,62.9 64.9,72.8C61.1,82.7 57.6,93.9 55.4,104.5C53.2,115.0 52.0,125.6 51.7,136.2C51.4,146.8 52.0,158.2 53.6,167.9C55.2,177.7 57.9,186.1 61.3,194.5C64.8,202.9 69.4,211.5 74.4,218.4C79.4,225.2 88.6,232.8 91.5,235.7" fill="none" stroke="#333" stroke-width="1.05" /><path d="M325.8,47.3C328.0,51.9 335.1,65.2 338.8,75.1C342.5,85.1 345.8,96.3 347.8,106.9C349.9,117.5 350.9,128.1 351.0,138.7C351.2,149.3 350.4,160.7 348.7,170.4C347.0,180.1 344.2,188.5 340.6,196.8C337.0,205.1 332.3,213.7 327.2,220.5C322.1,227.3 312.7,234.7 309.9,237.5" fill="none" stroke="#333" stroke-width="1.05" /><path d="M100.2,49.3C98.8,51.3 94.0,57.3 91.4,61.2C88.8,65.0 85.8,69.4 84.7,72.5C83.6,75.5 84.0,77.2 84.7,79.6C85.3,82.0 86.4,85.0 88.6,86.8C90.8,88.6 94.5,89.5 97.8,90.3C101.1,91.1 106.6,91.5 108.4,91.7" fill="none" stroke="#333" stroke-width="1.05" /><path d="M303.8,51.0C305.3,53.0 309.9,59.1 312.5,63.0C315.0,66.9 317.9,71.3 319.0,74.4C320.1,77.5 319.6,79.2 318.9,81.6C318.3,84.0 317.1,86.9 314.9,88.7C312.7,90.4 308.9,91.3 305.6,92.0C302.3,92.8 296.8,93.1 295.0,93.3" fill="none" stroke="#333" stroke-width="1.05" /><path d="M108.4,92.2C112.1,91.5 121.8,89.3 130.9,87.9C139.9,86.6 150.8,85.1 162.6,84.2C174.5,83.3 195.3,82.7 201.8,82.4" fill="none" stroke="#333" stroke-width="1.05" /><path d="M295.0,93.8C291.3,93.0 281.6,90.6 272.6,89.1C263.6,87.6 252.7,86.0 240.9,84.9C229.1,83.8 208.3,82.9 201.8,82.4" fill="none" stroke="#333" stroke-width="1.05" /><path d="M107.8,99.9L144.0,106.6" fill="none" stroke="#333" stroke-width="1.05" /><path d="M295.5,101.5L259.2,107.5" fill="none" stroke="#333" stroke-width="1.05" /><path d="M105.0,112.6L137.8,118.4" fill="none" stroke="#333" stroke-width="1.05" /><path d="M298.1,114.2L265.2,119.5" fill="none" stroke="#333" stroke-width="1.05" /><path d="M104.0,115.5L134.6,123.4" fill="none" stroke="#333" stroke-width="1.05" /><path d="M299.1,117.1L268.4,124.5" fill="none" stroke="#333" stroke-width="1.05" /><path d="M108.6,92.5L107.0,99.9" fill="none" stroke="#333" stroke-width="1.05" /><path d="M294.8,94.1L296.3,101.5" fill="none" stroke="#333" stroke-width="1.05" /><path d="M105.7,93.8C105.0,95.2 102.5,99.3 101.7,102.2C100.8,105.2 100.3,108.8 100.6,111.5C100.8,114.1 102.7,117.0 103.2,118.1" fill="none" stroke="#333" stroke-width="1.05" stroke-dasharray="5 3"/><path d="M297.7,95.4C298.3,96.8 300.8,101.0 301.6,103.9C302.4,106.9 302.9,110.5 302.6,113.2C302.3,115.8 300.3,118.7 299.9,119.8" fill="none" stroke="#333" stroke-width="1.05" stroke-dasharray="5 3"/><path d="M67.7,114.6C69.0,113.7 71.7,110.2 75.2,108.9C78.6,107.6 84.1,107.0 88.4,106.9C92.8,106.7 99.0,107.9 101.1,108.0" fill="none" stroke="#333" stroke-width="1.05" /><path d="M335.3,116.9C334.1,115.9 331.4,112.4 328.0,111.0C324.5,109.7 319.1,109.0 314.8,108.8C310.4,108.6 304.2,109.6 302.1,109.7" fill="none" stroke="#333" stroke-width="1.05" /><path d="M130.0,213.5C130.9,212.5 131.4,209.1 135.8,207.0C140.3,204.9 145.7,202.4 156.5,201.1C167.4,199.8 193.5,199.4 200.9,199.1" fill="none" stroke="#333" stroke-width="1.05" /><path d="M271.7,214.7C270.7,213.6 270.3,210.2 265.9,208.1C261.5,205.9 256.2,203.3 245.3,201.8C234.5,200.3 208.3,199.5 200.9,199.1" fill="none" stroke="#333" stroke-width="1.05" /><path d="M130.0,213.5C129.6,214.9 127.9,218.8 128.1,221.5C128.3,224.1 129.9,227.3 131.2,229.4C132.4,231.5 134.9,233.4 135.6,234.2" fill="none" stroke="#333" stroke-width="1.05" /><path d="M271.7,214.7C272.0,216.1 273.7,220.0 273.5,222.7C273.2,225.3 271.5,228.5 270.2,230.6C268.9,232.7 266.5,234.5 265.7,235.3" fill="none" stroke="#333" stroke-width="1.05" /><path d="M71.8,122.6C71.9,124.0 72.2,127.1 72.6,130.9C72.9,134.8 73.0,140.3 74.1,145.8C75.2,151.3 77.0,158.2 78.9,164.0C80.8,169.8 83.2,176.2 85.4,180.6C87.6,185.0 89.8,188.2 92.0,190.6C94.1,192.9 96.3,194.2 98.5,194.8C100.7,195.3 102.7,194.8 105.1,194.0C107.6,193.2 110.4,191.8 113.4,189.9C116.5,188.0 120.4,185.4 123.4,182.6C126.5,179.7 129.8,176.6 131.8,172.7C133.7,168.9 134.4,167.2 135.2,159.5C135.9,151.8 135.9,133.4 136.2,126.5C136.5,119.6 137.0,119.6 137.1,118.2" fill="none" stroke="#333" stroke-width="1.05" /><path d="M331.2,124.8C331.0,126.2 330.7,129.2 330.3,133.1C329.9,136.9 329.7,142.4 328.5,147.9C327.4,153.4 325.4,160.3 323.4,166.1C321.5,171.8 318.9,178.2 316.7,182.6C314.5,186.9 312.2,190.1 310.0,192.4C307.8,194.7 305.6,196.0 303.4,196.5C301.2,197.0 299.3,196.5 296.8,195.6C294.3,194.8 291.6,193.4 288.5,191.4C285.5,189.5 281.7,186.8 278.7,183.9C275.7,181.0 272.4,177.8 270.5,173.9C268.6,170.0 267.9,168.4 267.3,160.6C266.6,152.9 266.9,134.5 266.7,127.6C266.5,120.7 266.1,120.7 265.9,119.3" fill="none" stroke="#333" stroke-width="1.05" /><path d="M71.8,122.6C72.2,121.7 72.8,118.4 74.3,116.9C75.8,115.4 78.5,114.2 80.9,113.6C83.4,113.1 85.4,113.3 89.2,113.7C93.1,114.1 96.6,114.8 104.1,116.3C111.5,117.8 128.8,121.7 133.8,122.8" fill="none" stroke="#333" stroke-width="1.05" /><path d="M331.2,124.8C330.8,123.9 330.2,120.5 328.7,119.0C327.2,117.5 324.6,116.2 322.2,115.7C319.7,115.1 317.7,115.2 313.9,115.6C310.0,116.0 306.4,116.5 299.0,117.9C291.5,119.3 274.2,123.0 269.2,124.0" fill="none" stroke="#333" stroke-width="1.05" /><path d="M104.9,112.2L137.1,117.4" fill="none" stroke="#333" stroke-width="1.05" /><path d="M298.2,113.8L265.9,118.5" fill="none" stroke="#333" stroke-width="1.05" /><path d="M71.7,130.9L133.7,134.7" fill="none" stroke="#333" stroke-width="1.05" /><path d="M331.1,133.1L269.1,135.9" fill="none" stroke="#333" stroke-width="1.05" /><path d="M115.9,192.4L140.8,177.8" fill="none" stroke="#333" stroke-width="1.05" /><path d="M286.0,193.9L261.4,178.8" fill="none" stroke="#333" stroke-width="1.05" /><path d="M125.7,203.3L149.0,187.8" fill="none" stroke="#333" stroke-width="1.05" /><path d="M276.1,204.5L253.0,188.6" fill="none" stroke="#333" stroke-width="1.05" /><path d="M111.8,191.6L112.5,202.3" fill="none" stroke="#333" stroke-width="1.05" /><path d="M290.2,193.1L289.3,203.8" fill="none" stroke="#333" stroke-width="1.05" /><path d="M115.9,192.4L113.1,190.4" fill="none" stroke="#333" stroke-width="1.05" /><path d="M286.0,193.9L288.9,191.9" fill="none" stroke="#333" stroke-width="1.05" /><path d="M78.7,193.8C80.1,195.4 83.9,201.4 86.9,203.8C89.9,206.1 93.8,207.7 96.8,208.0C99.8,208.3 102.9,206.7 105.1,205.6C107.3,204.5 109.2,202.2 110.1,201.5" fill="none" stroke="#333" stroke-width="1.05" /><path d="M323.2,195.8C321.8,197.5 317.9,203.4 314.9,205.7C311.8,208.0 308.0,209.5 304.9,209.7C301.9,210.0 298.9,208.3 296.7,207.2C294.5,206.1 292.6,203.7 291.8,203.0" fill="none" stroke="#333" stroke-width="1.05" /><path d="M112.5,202.3C113.8,203.7 117.3,208.8 119.9,210.7C122.5,212.5 125.7,213.4 128.1,213.7C130.6,214.0 133.7,212.6 134.8,212.4" fill="none" stroke="#333" stroke-width="1.05" /><path d="M289.3,203.8C288.0,205.2 284.4,210.2 281.8,212.0C279.2,213.9 276.0,214.7 273.5,214.9C271.0,215.2 268.0,213.8 266.9,213.5" fill="none" stroke="#333" stroke-width="1.05" /><path d="M125.7,203.3L134.8,212.4" fill="none" stroke="#333" stroke-width="1.05" /><path d="M276.1,204.5L266.9,213.5" fill="none" stroke="#333" stroke-width="1.05" /><path d="M134.8,212.4C134.1,213.5 131.6,216.8 130.6,219.0C129.6,221.2 128.9,223.5 128.9,225.6C128.9,227.7 129.7,229.9 130.5,231.4C131.3,232.9 133.2,234.2 133.8,234.7" fill="none" stroke="#333" stroke-width="1.05" /><path d="M266.9,213.5C267.6,214.6 270.0,218.0 271.0,220.2C271.9,222.4 272.6,224.7 272.6,226.8C272.6,228.9 271.7,231.1 270.9,232.6C270.1,234.1 268.1,235.3 267.6,235.9" fill="none" stroke="#333" stroke-width="1.05" /><path d="M137.6,167.0L145.0,167.1" fill="none" stroke="#333" stroke-width="1.05" /><path d="M264.7,168.1L257.3,168.0" fill="none" stroke="#333" stroke-width="1.05" /><path d="M137.6,167.0C137.7,168.1 137.4,171.8 138.4,173.6C139.3,175.4 142.5,177.1 143.3,177.8" fill="none" stroke="#333" stroke-width="1.05" /><path d="M264.7,168.1C264.6,169.2 264.8,172.9 263.9,174.7C262.9,176.5 259.7,178.1 258.9,178.8" fill="none" stroke="#333" stroke-width="1.05" /><path d="M163.1,178.5L240.0,179.1" fill="none" stroke="#333" stroke-width="1.05" /><path d="M145.2,109.7C145.2,107.3 145.1,103.9 145.9,101.8C146.7,99.7 148.2,98.1 149.9,97.2C151.6,96.3 154.2,96.1 155.9,96.6C157.5,97.0 158.9,98.1 159.8,99.9C160.7,101.7 161.0,104.7 161.1,107.2C161.2,109.7 160.7,110.3 160.5,115.1C160.2,120.0 159.5,129.4 159.5,136.3C159.6,143.1 160.1,151.0 160.7,156.1C161.3,161.2 163.0,163.0 163.3,166.7C163.5,170.5 163.0,175.5 162.1,178.6C161.2,181.7 159.7,183.8 157.9,185.2C156.0,186.6 153.2,187.2 151.2,187.1C149.3,187.0 147.2,186.1 146.0,184.4C144.7,182.8 143.8,179.9 143.6,177.1C143.4,174.4 144.2,171.4 144.8,167.9C145.3,164.4 146.4,163.5 146.8,156.0C147.2,148.5 147.4,129.6 147.2,122.9C147.1,116.3 146.3,118.5 145.9,116.3C145.6,114.1 145.2,112.1 145.2,109.7Z" fill="#fdfdfd" stroke="#333" stroke-width="1.3" /><path d="M258.0,110.7C258.0,108.2 258.1,104.8 257.4,102.7C256.6,100.6 255.1,98.9 253.4,98.1C251.8,97.2 249.2,96.9 247.5,97.3C245.8,97.8 244.4,98.9 243.5,100.6C242.6,102.4 242.3,105.3 242.1,107.9C242.0,110.4 242.4,111.0 242.6,115.8C242.8,120.7 243.4,130.1 243.2,137.0C243.1,143.8 242.5,151.7 241.8,156.8C241.1,161.9 239.3,163.6 239.0,167.4C238.8,171.1 239.2,176.2 240.0,179.3C240.9,182.4 242.4,184.5 244.2,185.9C246.0,187.4 248.8,188.0 250.8,187.9C252.8,187.9 254.8,187.0 256.1,185.3C257.4,183.7 258.3,180.8 258.5,178.1C258.8,175.3 258.0,172.4 257.6,168.8C257.1,165.3 256.0,164.4 255.7,156.9C255.4,149.4 255.5,130.5 255.8,123.9C256.0,117.2 256.8,119.5 257.1,117.3C257.5,115.1 257.9,113.1 258.0,110.7Z" fill="#fdfdfd" stroke="#333" stroke-width="1.3" /><ellipse cx="152.5" cy="109.8" rx="6.0" ry="6.0" transform="rotate(0 152.5 109.8)" fill="none" stroke="#333" stroke-width="1.2"/><ellipse cx="250.7" cy="110.6" rx="6.0" ry="6.0" transform="rotate(0 250.7 110.6)" fill="none" stroke="#333" stroke-width="1.2"/><ellipse cx="153.3" cy="172.6" rx="6.2" ry="6.2" transform="rotate(0 153.3 172.6)" fill="none" stroke="#333" stroke-width="1.2"/><ellipse cx="248.9" cy="173.4" rx="6.2" ry="6.2" transform="rotate(0 248.9 173.4)" fill="none" stroke="#333" stroke-width="1.2"/><path d="M139.1,121.6C139.5,114.4 140.2,119.5 141.2,119.2C142.1,118.8 144.2,119.0 145.1,119.5C146.0,120.0 146.2,115.3 146.4,122.3C146.6,129.2 146.4,154.3 146.1,161.3C145.9,168.3 145.7,163.7 144.8,164.2C143.9,164.7 141.5,164.8 140.6,164.4C139.6,164.0 139.1,169.0 138.9,161.9C138.6,154.7 138.8,128.7 139.1,121.6Z" fill="none" stroke="#333" stroke-width="1.0" /><path d="M263.8,122.6C263.6,115.5 262.9,120.6 261.9,120.2C260.9,119.8 258.8,119.9 257.9,120.4C257.0,120.9 256.8,116.2 256.6,123.2C256.3,130.2 256.1,155.2 256.3,162.2C256.4,169.2 256.7,164.6 257.6,165.1C258.5,165.7 260.8,165.8 261.8,165.4C262.8,165.1 263.2,170.1 263.5,162.9C263.9,155.8 264.1,129.7 263.8,122.6Z" fill="none" stroke="#333" stroke-width="1.0" /><path d="M137.9,107.0C137.9,108.3 138.3,113.1 137.9,114.9C137.4,116.7 135.7,109.0 135.2,117.8C134.7,126.6 134.4,159.3 134.8,167.8C135.3,176.3 137.6,167.3 138.1,168.6C138.7,169.9 137.2,174.6 138.1,175.8C139.0,177.0 142.7,175.8 143.6,175.8" fill="none" stroke="#333" stroke-width="1.05" /><path d="M265.3,108.1C265.3,109.4 264.8,114.2 265.2,116.0C265.6,117.8 267.5,110.1 267.8,118.9C268.2,127.8 268.1,160.5 267.5,168.9C266.9,177.4 264.7,168.4 264.2,169.7C263.6,171.0 265.0,175.6 264.1,176.8C263.2,178.0 259.5,176.8 258.6,176.8" fill="none" stroke="#333" stroke-width="1.05" /><path d="M161.2,94.0C163.4,93.4 167.8,91.2 174.4,90.4C181.0,89.6 196.5,89.2 200.9,89.0" fill="none" stroke="#333" stroke-width="1.05" /><path d="M242.2,94.7C240.0,94.0 235.6,91.8 229.0,90.8C222.4,89.9 207.0,89.3 202.6,89.0" fill="none" stroke="#333" stroke-width="1.05" /><path d="M161.1,98.6C161.8,98.5 163.9,97.5 165.1,98.0C166.3,98.4 167.6,99.9 168.4,101.3C169.1,102.7 168.7,105.5 169.7,106.6C170.7,107.7 173.5,107.7 174.3,108.0" fill="none" stroke="#333" stroke-width="1.0" /><path d="M242.2,99.3C241.5,99.2 239.4,98.2 238.2,98.6C237.0,99.0 235.7,100.4 234.9,101.9C234.1,103.3 234.5,106.0 233.5,107.1C232.5,108.2 229.7,108.2 228.9,108.4" fill="none" stroke="#333" stroke-width="1.0" /><ellipse cx="163.5" cy="102.6" rx="2.0" ry="2.0" transform="rotate(0 163.5 102.6)" fill="none" stroke="#333" stroke-width="1.0"/><ellipse cx="239.8" cy="103.2" rx="2.0" ry="2.0" transform="rotate(0 239.8 103.2)" fill="none" stroke="#333" stroke-width="1.0"/><path d="M174.3,106.6C176.1,105.3 180.5,100.7 184.9,98.8C189.4,96.9 195.5,95.3 200.8,95.0C206.1,94.7 212.3,95.6 216.7,97.1C221.1,98.6 225.5,102.7 227.2,103.8" fill="none" stroke="#333" stroke-width="1.1" /><path d="M179.2,162.9C180.9,163.9 186.0,167.6 189.7,168.9C193.4,170.3 197.6,171.0 201.6,171.0C205.6,171.0 209.8,170.4 213.5,169.1C217.3,167.8 222.4,164.2 224.1,163.3" fill="none" stroke="#333" stroke-width="1.3" /><path d="M184.5,156.3C185.8,156.0 189.6,154.9 192.5,154.4C195.3,153.9 198.6,153.5 201.7,153.6C204.8,153.6 208.1,153.9 211.0,154.6C213.8,155.2 217.6,156.8 218.9,157.3" fill="none" stroke="#333" stroke-width="1.0" /><path d="M163.6,122.4C163.3,124.1 161.7,128.7 161.6,132.3C161.4,136.0 162.0,140.9 162.8,144.2C163.5,147.5 165.5,150.9 166.0,152.2" fill="none" stroke="#333" stroke-width="1.0" /><path d="M165.6,122.4C165.3,124.1 163.9,128.7 163.8,132.3C163.7,136.0 164.1,141.0 164.8,144.3C165.4,147.5 167.1,150.3 167.6,151.5" fill="none" stroke="#333" stroke-width="0.8" /><ellipse cx="201.2" cy="132.4" rx="5.6" ry="5.6" transform="rotate(0 201.2 132.4)" fill="none" stroke="#333" stroke-width="1.2"/><ellipse cx="201.2" cy="132.4" rx="2.9" ry="2.9" transform="rotate(0 201.2 132.4)" fill="none" stroke="#333" stroke-width="1.1"/><path d="M194.0,120.0L190.7,128.6" fill="none" stroke="#333" stroke-width="1.0" /><path d="M208.6,120.2L212.5,126.1" fill="none" stroke="#333" stroke-width="1.0" /><path d="M191.3,139.2L196.5,146.5" fill="none" stroke="#333" stroke-width="1.0" /><path d="M211.1,139.4L206.4,145.9" fill="none" stroke="#333" stroke-width="1.0" /><path d="M193.1,151.1L196.5,148.5L205.7,148.6L209.0,151.2Z" fill="none" stroke="#333" stroke-width="1.1" /><ellipse cx="184.7" cy="133.2" rx="2.4" ry="2.4" transform="rotate(0 184.7 133.2)" fill="none" stroke="#333" stroke-width="1.0"/><ellipse cx="218.4" cy="130.8" rx="2.5" ry="2.5" transform="rotate(0 218.4 130.8)" fill="none" stroke="#333" stroke-width="1.0"/><path d="M181.4,127.2L183.4,129.2" fill="none" stroke="#333" stroke-width="0.9" /><path d="M182.0,139.1L184.0,136.5" fill="none" stroke="#333" stroke-width="0.9" /><path d="M192.9,99.8L216.7,100.0L219.5,106.1L213.9,110.5L195.4,110.4L191.2,106.1Z" fill="#444" stroke="#333" stroke-width="1.2" /><path d="M197.5,104.2L212.7,104.3L211.3,108.3L198.8,108.2Z" fill="#ddd" stroke="#333" stroke-width="0.8" /><path d="M205.0,101.6L205.0,108.9" fill="none" stroke="#333" stroke-width="2.2" /><path d="M188.8,112.7L216.6,114.9" fill="none" stroke="#333" stroke-width="1.0" /><path d="M190.2,102.2C189.7,102.3 189.1,101.2 187.3,103.2C185.5,105.2 181.8,110.0 179.5,114.0C177.2,118.0 175.1,122.7 173.5,127.1C171.9,131.5 171.1,136.6 170.1,140.3C169.1,144.1 167.8,148.0 167.4,149.6" fill="none" stroke="#333" stroke-width="1.3" /><path d="M194.4,103.8C192.9,105.5 187.8,110.4 185.1,114.3C182.4,118.2 180.1,122.8 178.4,127.2C176.7,131.5 175.9,136.6 174.8,140.4C173.8,144.1 172.6,148.1 172.1,149.6" fill="none" stroke="#333" stroke-width="1.3" /><path d="M164.1,150.9L174.0,152.3L175.5,165.5L171.4,172.3L165.9,171.0L163.6,162.8Z" fill="#555" stroke="#333" stroke-width="1.2" /><path d="M166.7,156.2L171.9,156.9L172.3,161.5L167.3,161.2Z" fill="#e8e8e8" stroke="#333" stroke-width="0.8" /><path d="M167.5,163.4L171.9,164.1L171.2,168.8L167.5,168.1Z" fill="#e8e8e8" stroke="#333" stroke-width="0.8" /><ellipse cx="173.8" cy="174.7" rx="2.4" ry="2.4" transform="rotate(0 173.8 174.7)" fill="none" stroke="#333" stroke-width="1.1"/><path d="M164.5,176.0C165.2,176.7 166.7,179.5 168.5,180.2C170.2,181.0 173.2,181.2 175.1,180.6C177.0,179.9 179.2,178.0 179.9,176.4C180.5,174.8 179.9,172.1 179.1,170.8C178.3,169.5 175.8,168.8 175.2,168.4" fill="none" stroke="#333" stroke-width="1.1" /><path d="M216.7,100.4C218.2,101.0 223.0,102.1 225.9,103.8C228.7,105.4 231.8,108.2 233.8,110.4C235.7,112.7 236.9,114.8 237.7,117.1C238.5,119.4 238.3,123.2 238.4,124.4" fill="none" stroke="#333" stroke-width="1.3" /><path d="M219.5,106.1C219.9,107.5 220.9,111.7 221.8,114.3C222.8,116.9 223.6,120.0 225.1,121.6C226.6,123.2 229.2,124.2 231.0,123.9C232.8,123.6 235.1,121.6 235.8,120.0C236.5,118.4 236.5,116.4 235.1,114.4C233.6,112.5 228.5,109.4 227.2,108.4" fill="none" stroke="#333" stroke-width="1.8" /><path d="M231.0,127.4L244.5,130.4L244.4,142.5L230.9,140.8Z" fill="#fdfdfd" stroke="#333" stroke-width="1.4" /><path d="M231.0,127.4L244.5,130.4L244.5,133.0L231.0,130.5Z" fill="#444" stroke="#333" stroke-width="1.0" /><path d="M236.5,135.3L242.2,135.9L242.1,140.9L236.5,140.4Z" fill="none" stroke="#333" stroke-width="1.1" /><path d="M239.3,135.6L239.2,140.6" fill="none" stroke="#333" stroke-width="1.0" /><ellipse cx="223.0" cy="142.8" rx="3.4" ry="3.4" transform="rotate(0 223.0 142.8)" fill="none" stroke="#333" stroke-width="3.0"/><path d="M226.3,142.8L244.1,144.9" fill="none" stroke="#333" stroke-width="1.0" /><path d="M226.3,144.8L243.4,146.9" fill="none" stroke="#333" stroke-width="1.0" /><path d="M212.4,146.2L228.4,163.3L225.7,171.2" fill="none" stroke="#333" stroke-width="1.1" /><path d="M226.9,145.4L243.3,162.8" fill="none" stroke="#333" stroke-width="1.1" /><path d="M232.8,148.8L240.0,156.8" fill="none" stroke="#333" stroke-width="0.8" stroke-dasharray="3 2"/><ellipse cx="230.0" cy="174.6" rx="2.4" ry="2.4" transform="rotate(0 230.0 174.6)" fill="none" stroke="#333" stroke-width="1.1"/><path d="M224.1,173.2C224.3,174.3 224.2,178.7 225.3,180.2C226.4,181.7 228.8,182.4 230.6,182.1C232.4,181.8 234.5,179.3 236.2,178.2C237.9,177.0 239.8,175.8 240.6,175.3" fill="none" stroke="#333" stroke-width="1.1" /><path d="M179.7,178.1L224.3,178.5" fill="none" stroke="#333" stroke-width="1.0" /><path d="M270.9,137.1C273.3,137.0 281.4,137.1 284.8,136.6C288.2,136.1 288.1,134.4 291.5,134.0C294.8,133.5 301.4,133.4 304.7,133.8C308.0,134.3 309.8,135.4 311.3,136.8C312.7,138.2 313.1,140.1 313.2,142.1C313.3,144.1 312.8,147.1 311.8,148.7C310.8,150.4 310.2,151.4 307.2,152.0C304.2,152.6 297.7,152.7 294.0,152.3C290.2,151.8 288.5,149.8 284.7,149.1C281.0,148.5 273.7,148.5 271.5,148.4" fill="#fdfdfd" stroke="#333" stroke-width="1.05" /><path d="M313.2,138.8C314.5,138.6 317.4,137.9 320.5,137.5C323.6,137.2 329.9,136.8 331.8,136.7" fill="none" stroke="#333" stroke-width="1.05" /><path d="M381.0,190.0C382.3,188.1 385.9,181.5 389.0,178.4C392.1,175.4 397.8,173.0 399.6,171.9" fill="none" stroke="#999" stroke-width="0.7" /><path d="M381.0,190.0C380.5,191.6 378.6,196.2 378.2,199.5C377.9,202.9 378.7,208.3 378.8,210.1" fill="none" stroke="#999" stroke-width="0.7" /></svg></div>
<div class="fig" style="left:98.3px;top:1302.9px;width:415.4px;height:270.1px;transform:matrix(1,-0.0074,0.0072,1,0,0)"><svg viewBox="0 0 415.4 270.1" stroke-linecap="round" stroke-linejoin="round"><path d="M294.3,150.3L293.0,159.3L291.1,168.2L288.5,176.9L285.3,185.1L281.4,193.0L277.0,200.2L272.1,206.9L266.7,212.9L260.8,218.1L254.7,222.5L248.2,226.1L241.6,228.8L234.8,230.5L227.9,231.3L221.1,231.1L214.4,230.0L207.8,227.9L201.5,225.0L195.4,221.1L189.8,216.4L184.5,210.9L179.8,204.6L175.6,197.8L172.0,190.3L169.0,182.3L166.7,173.9L165.1,165.1L164.1,156.2L163.9,147.1L164.4,137.9L165.7,128.9L167.6,120.0L170.2,111.4L173.4,103.1L177.3,95.3L181.7,88.0L186.6,81.3L192.0,75.3L197.9,70.1L204.0,65.7L210.5,62.1L217.1,59.5L223.9,57.7L230.8,56.9L237.6,57.1L244.3,58.2L250.9,60.3L257.2,63.3L263.3,67.1L268.9,71.8L274.2,77.3L278.9,83.6L283.1,90.5L286.7,98.0L289.7,105.9L292.0,114.4L293.6,123.1L294.6,132.1L294.8,141.1L294.3,150.3Z" fill="none" stroke="#333" stroke-width="1.5"/><path d="M275.5,174.9L273.2,180.8L270.6,186.3L267.6,191.6L264.3,196.5L260.8,201.0L257.0,205.0L253.0,208.7L248.8,211.8L244.5,214.4L240.0,216.5L235.5,218.0L230.9,219.0L226.3,219.4L221.7,219.3L217.2,218.6L212.7,217.3L208.4,215.4L204.2,213.1L200.2,210.2L196.5,206.8L192.9,203.0L189.7,198.7L186.7,193.9L184.1,188.9L181.8,183.4L179.9,177.7L178.3,171.8L177.1,165.6L176.3,159.3L175.9,152.8L176.0,146.3L176.4,139.8L177.2,133.4L178.4,127.0L180.0,120.7L181.9,114.7L184.3,108.8L186.9,103.3L189.9,98.0L193.2,93.1L196.7,88.6L200.5,84.6L204.5,81.0L208.7,77.8L213.0,75.2L217.5,73.1L222.0,71.6L226.6,70.6L231.2,70.2L235.8,70.3L240.3,71.1L244.8,72.3L249.1,74.2L253.3,76.5L257.3,79.4L261.0,82.8L264.6,86.7L267.8,91.0L270.8,95.7L273.4,100.8" fill="none" stroke="#333" stroke-width="1.5"/><path d="M88.2,62.3C91.3,60.8 100.2,56.0 106.9,53.4C113.6,50.8 121.6,48.4 128.5,46.6C135.4,44.8 142.3,43.4 148.3,42.4C154.4,41.5 159.4,41.1 164.9,41.1C170.4,41.1 176.4,41.5 181.4,42.4C186.3,43.2 190.5,44.5 194.6,46.1C198.7,47.6 202.7,49.6 206.1,51.6C209.5,53.7 213.6,57.2 215.2,58.3" fill="none" stroke="#333" stroke-width="1.55" /><path d="M187.1,51.0C188.9,50.9 194.7,50.0 197.9,50.4C201.0,50.8 203.6,52.1 206.1,53.3C208.6,54.5 211.6,57.0 212.7,57.8" fill="none" stroke="#333" stroke-width="1.55" /><path d="M206.1,55.4C203.1,55.3 194.8,54.4 187.9,54.8C181.0,55.2 172.2,56.2 164.7,57.9C157.3,59.7 149.8,62.1 143.2,65.2C136.6,68.3 130.1,72.6 124.9,76.6C119.8,80.7 115.8,85.4 112.4,89.8C109.1,94.2 106.7,99.1 104.9,102.9C103.2,106.8 102.2,109.8 101.9,112.8C101.5,115.9 102.0,118.3 102.8,121.1C103.6,123.9 104.9,127.4 106.7,129.7C108.5,132.1 111.2,134.2 113.8,135.4C116.3,136.6 119.1,137.0 122.0,137.0C124.9,137.0 128.5,135.8 131.1,135.4C133.7,134.9 136.6,134.3 137.7,134.1" fill="none" stroke="#333" stroke-width="1.55" /><path d="M80.9,111.4C82.1,111.1 86.3,109.7 88.3,109.9C90.4,110.2 91.8,110.9 93.3,112.8C94.8,114.6 95.9,117.9 97.3,121.1C98.8,124.3 100.3,128.7 102.2,131.9C104.1,135.0 106.2,138.2 108.8,140.2C111.4,142.1 114.7,143.2 117.8,143.5C121.0,143.8 124.3,142.8 127.8,142.0C131.2,141.2 136.7,139.3 138.5,138.7" fill="none" stroke="#333" stroke-width="1.55" /><path d="M95.8,66.2C95.5,68.4 94.5,75.3 94.3,79.7C94.2,84.2 94.8,88.9 94.7,93.0C94.6,97.0 93.8,102.3 93.7,104.2" fill="none" stroke="#333" stroke-width="1.15" /><path d="M107.7,126.6L167.7,111.2" fill="none" stroke="#333" stroke-width="1.15" /><path d="M185.1,105.7L262.9,89.6" fill="none" stroke="#333" stroke-width="1.15" /><path d="M132.5,133.2C132.6,132.1 132.4,128.5 133.3,126.6C134.2,124.8 134.9,123.7 137.8,122.2C140.8,120.7 146.1,118.9 151.1,117.3C156.1,115.8 164.9,113.7 167.7,113.0" fill="none" stroke="#333" stroke-width="1.55" /><path d="M81.5,135.8L98.9,130.7" fill="none" stroke="#333" stroke-width="1.15" /><path d="M137.7,134.1C138.3,135.0 140.2,137.6 141.0,139.6C141.8,141.6 142.2,142.9 142.6,146.2C143.0,149.5 143.1,154.8 143.4,159.4C143.6,164.1 144.1,170.5 144.1,174.0C144.0,177.4 143.8,178.0 143.2,180.1C142.6,182.2 141.2,184.9 140.7,186.7C140.1,188.5 140.0,190.1 139.8,190.8" fill="none" stroke="#333" stroke-width="1.55" /><path d="M153.4,141.3C153.8,140.8 154.0,138.9 155.6,138.4C157.1,137.8 161.4,138.1 162.5,138.1" fill="none" stroke="#333" stroke-width="1.55" /><path d="M153.7,141.7L154.5,145.5" fill="none" stroke="#333" stroke-width="1.55" /><path d="M154.1,159.5C154.3,160.8 154.0,165.2 155.4,167.0C156.7,168.8 160.7,169.9 162.3,170.3C163.8,170.7 164.4,169.6 164.8,169.5" fill="none" stroke="#333" stroke-width="1.55" /><path d="M137.6,154.4C137.6,153.0 137.3,151.0 139.0,149.8C140.6,148.6 144.5,147.8 147.6,147.1C150.7,146.3 155.4,145.3 157.5,145.5C159.6,145.7 160.1,146.9 160.5,148.3C160.8,149.7 160.5,152.4 159.4,153.8C158.4,155.1 156.9,155.2 154.1,156.2C151.3,157.2 145.1,159.4 142.5,159.8C140.0,160.1 139.7,159.5 138.9,158.6C138.1,157.7 137.6,155.9 137.6,154.4Z" fill="#fdfdfd" stroke="#333" stroke-width="1.55" /><path d="M216.2,72.7C216.5,74.8 217.8,81.5 218.3,85.6C218.7,89.7 219.2,93.6 219.0,97.2C218.8,100.8 217.6,105.4 217.3,107.1" fill="none" stroke="#333" stroke-width="1.55" /><path d="M221.7,71.6C222.1,73.9 223.6,81.4 224.0,85.6C224.5,89.9 224.6,93.8 224.3,97.2C224.0,100.7 222.6,104.8 222.2,106.3" fill="none" stroke="#333" stroke-width="1.55" /><path d="M226.7,67.8C228.4,67.7 234.0,67.0 237.4,67.2C240.8,67.5 244.6,68.5 247.3,69.3C250.1,70.1 252.8,71.4 253.9,71.8" fill="none" stroke="#333" stroke-width="1.15" /><path d="M179.1,132.4C181.0,130.4 186.3,123.5 190.7,120.1C195.2,116.7 200.4,114.3 205.7,112.0C210.9,109.7 216.7,107.9 222.2,106.3C227.8,104.7 233.3,103.3 238.8,102.3C244.3,101.2 251.4,100.4 255.3,99.9C259.3,99.4 261.6,99.3 262.8,99.2" fill="none" stroke="#333" stroke-width="1.6" /><path d="M181.5,134.1C183.1,133.0 187.6,129.5 190.7,127.5C193.7,125.6 198.3,123.5 199.8,122.7" fill="none" stroke="#333" stroke-width="1.55" /><path d="M245.4,105.6C246.8,105.4 251.2,104.6 253.7,104.0C256.1,103.5 259.2,102.7 260.3,102.4" fill="none" stroke="#333" stroke-width="1.15" /><path d="M246.3,100.7C247.2,99.7 249.5,96.4 252.1,94.9C254.7,93.4 260.4,92.3 262.0,91.7" fill="none" stroke="#333" stroke-width="1.55" /><path d="M184.5,111.0C186.4,111.5 192.6,114.0 195.7,114.4C198.9,114.7 201.9,113.4 203.2,113.3" fill="none" stroke="#333" stroke-width="1.15" /><path d="M222.5,76.5L240.7,72.5" fill="none" stroke="#333" stroke-width="1.15" /><path d="M190.6,43.3L307.5,27.3" fill="none" stroke="#333" stroke-width="1.15" /><path d="M265.1,68.6L316.4,57.9" fill="none" stroke="#333" stroke-width="1.15" /><path d="M279.0,85.7L322.0,76.1" fill="none" stroke="#333" stroke-width="1.15" /><path d="M245.8,100.7C246.7,99.9 248.8,97.3 250.8,95.8C252.9,94.3 256.2,92.5 258.3,91.7C260.4,90.9 262.2,90.5 263.3,90.9C264.4,91.3 264.8,92.9 264.9,94.2C264.9,95.5 263.8,98.1 263.5,98.8" fill="none" stroke="#333" stroke-width="1.55" /><path d="M245.8,106.0C247.3,105.5 252.2,104.1 254.9,103.2C257.7,102.4 261.1,101.2 262.4,100.8" fill="none" stroke="#333" stroke-width="1.55" /><ellipse cx="271.4" cy="131.1" rx="8.3" ry="21.7" transform="rotate(-3 271.4 131.1)" fill="none" stroke="#333" stroke-width="1.55"/><path d="M286.4,96.0C287.5,95.9 291.2,94.4 293.0,95.2C294.8,96.1 295.9,97.3 297.1,101.1C298.3,104.8 299.2,111.0 300.3,117.6C301.3,124.2 302.2,133.6 303.4,140.8C304.6,148.0 306.2,154.9 307.4,160.6C308.6,166.4 310.1,172.8 310.6,175.2" fill="none" stroke="#333" stroke-width="1.55" /><path d="M281.5,86.4C283.7,86.3 290.9,85.3 294.7,85.8C298.6,86.4 302.0,87.0 304.6,89.5C307.2,92.1 308.7,95.9 310.3,101.2C311.9,106.4 313.1,113.3 314.3,121.0C315.5,128.7 316.4,138.5 317.4,147.5C318.4,156.5 320.0,170.7 320.5,175.3" fill="none" stroke="#333" stroke-width="1.55" /><path d="M139.8,190.8C140.4,191.5 140.8,194.0 143.1,195.0C145.4,195.9 149.8,196.7 153.8,196.7C157.8,196.7 163.6,195.7 167.1,195.1C170.5,194.6 173.3,193.5 174.5,193.2" fill="none" stroke="#333" stroke-width="1.55" /><path d="M94.1,188.0L138.3,176.4" fill="none" stroke="#333" stroke-width="1.15" /><path d="M88.5,205.0L139.8,191.1" fill="none" stroke="#333" stroke-width="1.15" /><path d="M84.6,221.3C90.0,219.8 109.7,213.8 117.4,212.1C125.0,210.5 126.4,211.1 130.6,211.4C134.7,211.7 138.8,213.6 142.1,214.0C145.4,214.3 144.3,215.0 150.4,213.7C156.5,212.4 173.9,207.3 178.6,206.0" fill="none" stroke="#333" stroke-width="1.55" /><path d="M120.7,207.7C121.8,206.8 124.8,203.8 127.3,202.3C129.8,200.8 132.9,198.9 135.6,198.5C138.4,198.2 140.3,199.5 143.9,199.9C147.5,200.3 152.1,201.4 157.1,200.9C162.1,200.3 170.9,197.5 173.7,196.8" fill="none" stroke="#333" stroke-width="1.55" /><path d="M187.3,144.9C188.6,145.2 193.0,144.8 195.5,146.6C198.0,148.4 200.4,152.0 202.1,155.7C203.7,159.5 204.6,164.6 205.3,169.0C205.9,173.4 206.3,178.1 206.0,182.2C205.7,186.3 203.9,191.8 203.4,193.8" fill="none" stroke="#333" stroke-width="1.55" /><path d="M178.9,152.3C179.8,151.8 182.3,149.7 183.9,149.8C185.6,150.0 187.5,150.8 188.8,153.2C190.2,155.5 191.3,159.9 192.1,163.9C192.9,167.9 193.3,173.0 193.6,177.2C194.0,181.3 194.5,185.6 194.4,188.7C194.2,191.9 193.0,194.9 192.7,196.2" fill="none" stroke="#333" stroke-width="1.55" /><path d="M180.6,155.6C180.2,157.9 180.5,163.9 181.0,167.1C181.5,170.4 182.3,173.7 183.4,175.1C184.5,176.5 187.1,177.1 187.9,175.8C188.6,174.5 188.4,170.4 188.1,167.2C187.8,164.0 186.7,158.8 185.9,156.4C185.0,154.1 183.9,153.3 183.1,153.1C182.2,153.0 180.9,153.2 180.6,155.6Z" fill="none" stroke="#333" stroke-width="1.1" /><path d="M177.4,131.6C178.0,132.0 179.8,132.8 180.7,134.1C181.7,135.3 182.6,137.3 183.2,139.1C183.7,140.9 183.8,143.9 184.0,144.9" fill="none" stroke="#333" stroke-width="1.55" /><path d="M192.7,196.2C193.4,195.8 195.3,193.8 196.8,193.7C198.3,193.6 200.1,194.3 201.8,195.4C203.4,196.5 205.3,198.5 206.7,200.4C208.1,202.3 209.3,205.1 209.9,207.0C210.6,209.0 210.6,211.2 210.7,212.0" fill="none" stroke="#333" stroke-width="1.55" /><path d="M200.1,201.2L202.6,197.1" fill="none" stroke="#333" stroke-width="1.15" /><path d="M211.6,204.6C212.0,203.9 212.2,202.0 214.1,200.4C216.1,198.9 219.0,197.9 223.3,195.6C227.5,193.2 234.6,189.6 239.8,186.6C245.1,183.6 250.6,180.0 254.8,177.6C258.9,175.2 263.1,173.3 264.7,172.4" fill="none" stroke="#333" stroke-width="1.8" /><path d="M221.4,217.9C223.9,217.7 232.5,217.3 236.3,216.8C240.2,216.3 243.2,215.1 244.6,214.7" fill="none" stroke="#333" stroke-width="1.15" /><path d="M239.8,188.2L251.3,207.3" fill="none" stroke="#333" stroke-width="1.15" /><path d="M205.3,162.4L224.4,154.7" fill="none" stroke="#333" stroke-width="1.15" /><path d="M206.3,163.4L223.5,156.6" fill="none" stroke="#333" stroke-width="0.6" /><path d="M245.9,145.3L263.3,137.2" fill="none" stroke="#333" stroke-width="1.15" /><path d="M246.7,146.5L263.3,138.7" fill="none" stroke="#333" stroke-width="0.6" /><ellipse cx="234.8" cy="148.9" rx="11.1" ry="12.9" transform="rotate(12 234.8 148.9)" fill="#fdfdfd" stroke="#333" stroke-width="1.5"/><ellipse cx="234.8" cy="148.9" rx="9.3" ry="10.9" transform="rotate(12 234.8 148.9)" fill="none" stroke="#333" stroke-width="1.1"/><path d="M232.8,138.9L237.9,138.5L234.8,150.0L242.3,147.4L243.4,151.1L234.6,154.3L231.7,154.5L230.2,152.3Z" fill="none" stroke="#333" stroke-width="1.3" /><path d="M177.4,131.6L199.0,121.0" fill="none" stroke="#333" stroke-width="1.2" /><path d="M180.7,133.8L199.8,123.5" fill="none" stroke="#333" stroke-width="1.2" /><path d="M273.1,152.6C273.6,153.2 275.8,154.7 276.3,156.3C276.9,157.9 276.8,159.9 276.3,162.1C275.8,164.3 274.5,167.6 273.4,169.5C272.4,171.4 271.6,173.1 270.1,173.6C268.6,174.1 265.7,172.8 264.3,172.7C263.0,172.6 262.3,173.0 261.8,173.0" fill="none" stroke="#333" stroke-width="1.55" /><path d="M214.5,200.5C217.3,199.0 225.6,194.7 231.1,191.5C236.7,188.2 242.5,184.0 247.7,180.9C253.0,177.7 259.4,174.0 262.7,172.7C266.0,171.4 266.3,172.8 267.6,173.1C269.0,173.4 270.4,174.2 270.9,174.4" fill="none" stroke="#333" stroke-width="1.8" /><path d="M239.4,188.7L250.5,207.7" fill="none" stroke="#333" stroke-width="1.15" /><path d="M267.3,174.4C267.5,175.5 268.1,179.2 268.4,181.0C268.7,182.8 269.1,184.5 269.2,185.2" fill="none" stroke="#333" stroke-width="1.15" /><path d="M214.4,217.0C216.1,217.2 221.0,218.1 224.3,218.4C227.6,218.6 230.9,218.8 234.2,218.4C237.6,218.1 242.5,216.7 244.2,216.4" fill="none" stroke="#333" stroke-width="1.15" /><path d="M300.3,115.1C300.8,119.0 302.2,130.6 303.4,138.3C304.6,146.0 305.6,154.3 307.4,161.5C309.1,168.6 311.4,175.8 313.9,181.4C316.3,186.9 319.3,191.1 322.0,194.6C324.8,198.2 328.9,201.3 330.2,202.6" fill="none" stroke="#333" stroke-width="1.55" /><path d="M314.3,115.2C314.7,119.1 315.9,130.1 316.6,138.4C317.4,146.7 317.7,157.7 318.9,164.9C320.1,172.0 321.9,176.7 323.8,181.4C325.7,186.1 328.5,190.4 330.3,193.0C332.1,195.7 333.7,196.5 334.4,197.2" fill="none" stroke="#333" stroke-width="1.55" /><path d="M291.1,168.3L301.6,163.6" fill="none" stroke="#333" stroke-width="1.15" /><path d="M278.2,200.9L310.2,223.8" fill="none" stroke="#333" stroke-width="1.15" /><path d="M262.7,218.7L289.0,234.4" fill="none" stroke="#333" stroke-width="1.15" /><path d="M245.9,89.9L264.2,82.6" fill="none" stroke="#333" stroke-width="1.15" /><path d="M214.9,82.7L223.3,81.7L224.2,91.2L228.2,90.7L221.7,104.3L211.8,92.3L215.8,91.8Z" fill="#444" stroke="#444" stroke-width="1" /><path d="M290.7,120.2L291.7,129.3L281.5,133.7L282.4,140.4L268.3,133.6L276.6,122.5L278.3,126.3Z" fill="#444" stroke="#444" stroke-width="1" /><path d="M164.6,178.0L177.5,173.9L176.6,168.2L189.9,172.7L180.4,183.1L179.5,178.9L166.0,186.4Z" fill="#444" stroke="#444" stroke-width="1" /><path d="M245.6,188.0L254.7,196.0L250.5,197.2L252.2,210.4L243.7,212.1L241.8,198.7L236.9,199.9Z" fill="#444" stroke="#444" stroke-width="1" /><text x="0" y="0" transform="translate(369.6,264.9) scale(0.8,1)" font-family="Liberation Sans, sans-serif" font-size="12.5"  letter-spacing="0" fill="#333" stroke="#333" stroke-width="0.35" text-anchor="start">N02948</text></svg></div>
<div class="t" style="left:89.25px;top:26.52px;font-size:21px;line-height:27px;height:27px;letter-spacing:1.308px;word-spacing:0.000px;transform:matrix(1.0,-0.01010,0,1.0,0,0);color:#333;font-weight:bold;">RS-16</div>
<div class="t" style="left:243.84px;top:13.92px;font-size:21px;line-height:27px;height:27px;letter-spacing:0.900px;word-spacing:2.300px;transform:matrix(1.0,-0.01010,0,1.0,0,0);color:#333;font-weight:bold;">SUPPLEMENTAL RESTRAINT SYSTEM</div>
<div class="t" style="left:673.45px;top:9.22px;font-size:21px;line-height:27px;height:27px;letter-spacing:0.000px;word-spacing:0.000px;transform:matrix(1.0,-0.01010,0,1.0,0,0);color:#333;">–</div>
<div class="t" style="left:699.57px;top:9.15px;font-size:20.5px;line-height:27px;height:27px;letter-spacing:1.171px;word-spacing:1.742px;transform:matrix(1.0,-0.01010,0,1.0,0,0);color:#333;">STEERING WHEEL PAD AND</div>
<div class="t" style="left:699.07px;top:34.40px;font-size:20.5px;line-height:27px;height:27px;letter-spacing:1.171px;word-spacing:1.559px;transform:matrix(1.0,-0.01010,0,1.0,0,0);color:#333;">SPIRAL CABLE</div>
<div class="t" style="left:544.00px;top:78.55px;font-size:34.5px;line-height:45px;height:45px;letter-spacing:1.415px;word-spacing:0.500px;transform:matrix(0.92,-0.00856,0,1.0,0,0);color:#333;font-weight:bold;">STEERING WHEEL PAD AND SPIRAL</div>
<div class="t" style="left:544.10px;top:118.85px;font-size:34.5px;line-height:45px;height:45px;letter-spacing:0.428px;word-spacing:0.000px;transform:matrix(0.92,-0.00856,0,1.0,0,0);color:#333;font-weight:bold;">CABLE</div>
<div class="t" style="left:544.93px;top:161.29px;font-size:28.6px;line-height:37px;height:37px;letter-spacing:0.729px;word-spacing:0.500px;transform:matrix(1.0,-0.00930,0,1.0,0,0);color:#333;font-weight:bold;">INSPECTION ITEMS</div>
<div class="t" style="left:547.59px;top:203.28px;font-size:22px;line-height:29px;height:29px;letter-spacing:1.000px;word-spacing:0.000px;transform:matrix(1.0,-0.00930,0,1.0,0,0);color:#333;font-weight:bold;">1.</div>
<div class="t" style="left:595.89px;top:202.88px;font-size:22px;line-height:29px;height:29px;letter-spacing:0.943px;word-spacing:1.106px;transform:matrix(1.0,-0.00930,0,1.0,0,0);color:#333;font-weight:bold;">VEHICLES NOT INVOLVED IN A COLLISION</div>
<div class="t" style="left:1111.86px;top:154.13px;font-size:8px;line-height:10px;height:10px;letter-spacing:0.106px;word-spacing:0.500px;transform:matrix(1.0,-0.00930,0,1.0,0,0);color:#222;font-weight:bold;">RS04B – 02</div>
<div class="t" style="left:546.05px;top:233.48px;font-size:21px;line-height:27px;height:27px;letter-spacing:1.000px;word-spacing:0.000px;transform:matrix(1.0,-0.00930,0,1.06,0,0);color:#333;">(a)</div>
<div class="t" style="left:596.64px;top:233.48px;font-size:21px;line-height:27px;height:27px;letter-spacing:1.200px;word-spacing:3.537px;transform:matrix(1.0,-0.00930,0,1.06,0,0);color:#333;">Perform diagnostic system check.</div>
<div class="t" style="left:596.89px;top:263.48px;font-size:21px;line-height:27px;height:27px;letter-spacing:0.989px;word-spacing:0.500px;transform:matrix(1.0,-0.00930,0,1.06,0,0);color:#333;">(See page RS—59)</div>
<div class="t" style="left:546.54px;top:293.48px;font-size:21px;line-height:27px;height:27px;letter-spacing:1.000px;word-spacing:0.000px;transform:matrix(1.0,-0.00930,0,1.06,0,0);color:#333;">(b)</div>
<div class="t" style="left:597.14px;top:293.48px;font-size:21px;line-height:27px;height:27px;letter-spacing:1.200px;word-spacing:4.610px;transform:matrix(1.0,-0.00930,0,1.06,0,0);color:#333;">Perform a visual check which includes the following</div>
<div class="t" style="left:597.38px;top:323.48px;font-size:21px;line-height:27px;height:27px;letter-spacing:1.200px;word-spacing:7.070px;transform:matrix(1.0,-0.00930,0,1.06,0,0);color:#333;">items with the steering wheel pad (with airbag in-</div>
<div class="t" style="left:597.63px;top:353.48px;font-size:21px;line-height:27px;height:27px;letter-spacing:1.200px;word-spacing:1.208px;transform:matrix(1.0,-0.00930,0,1.06,0,0);color:#333;">stalled in the vehicle.</div>
<div class="t" style="left:647.05px;top:383.48px;font-size:21px;line-height:27px;height:27px;letter-spacing:1.200px;word-spacing:3.293px;transform:matrix(1.0,-0.00930,0,1.06,0,0);color:#333;">Check for cuts, minute cracks or marked discol-</div>
<div class="t" style="left:647.25px;top:413.48px;font-size:21px;line-height:27px;height:27px;letter-spacing:1.200px;word-spacing:1.019px;transform:matrix(1.0,-0.00930,0,1.06,0,0);color:#333;">oration of the steering wheel pad top surface and</div>
<div class="t" style="left:647.55px;top:443.48px;font-size:21px;line-height:27px;height:27px;letter-spacing:1.200px;word-spacing:4.486px;transform:matrix(1.0,-0.00930,0,1.06,0,0);color:#333;">grooved portion.</div>
<div class="t" style="left:549.29px;top:687.63px;font-size:22px;line-height:29px;height:29px;letter-spacing:1.000px;word-spacing:0.000px;transform:matrix(1.0,-0.00800,0,1.0,0,0);color:#333;font-weight:bold;">2.</div>
<div class="t" style="left:599.79px;top:687.63px;font-size:22px;line-height:29px;height:29px;letter-spacing:0.943px;word-spacing:0.938px;transform:matrix(1.0,-0.00800,0,1.0,0,0);color:#333;font-weight:bold;">VEHICLES INVOLVED IN A COLLISION</div>
<div class="t" style="left:599.93px;top:717.64px;font-size:19.5px;line-height:25px;height:25px;letter-spacing:0.836px;word-spacing:1.262px;transform:matrix(1.0,-0.00800,0,1.0,0,0);color:#333;font-weight:bold;">IF THE AIRBAG IS NOT DEPLOYED</div>
<div class="t" style="left:550.36px;top:747.88px;font-size:21px;line-height:27px;height:27px;letter-spacing:1.000px;word-spacing:0.000px;transform:matrix(1.0,-0.00800,0,1.06,0,0);color:#333;">(a)</div>
<div class="t" style="left:599.86px;top:747.88px;font-size:21px;line-height:27px;height:27px;letter-spacing:1.200px;word-spacing:2.746px;transform:matrix(1.0,-0.00800,0,1.06,0,0);color:#333;">Perform a diagnostic system check.</div>
<div class="t" style="left:600.11px;top:778.22px;font-size:21px;line-height:27px;height:27px;letter-spacing:1.068px;word-spacing:0.500px;transform:matrix(1.0,-0.00800,0,1.06,0,0);color:#333;">(See page RS—59)</div>
<div class="t" style="left:550.86px;top:808.56px;font-size:21px;line-height:27px;height:27px;letter-spacing:1.000px;word-spacing:0.000px;transform:matrix(1.0,-0.00800,0,1.06,0,0);color:#333;">(b)</div>
<div class="t" style="left:600.36px;top:808.56px;font-size:21px;line-height:27px;height:27px;letter-spacing:1.200px;word-spacing:4.695px;transform:matrix(1.0,-0.00800,0,1.06,0,0);color:#333;">Perform a visual check which includes the following</div>
<div class="t" style="left:600.60px;top:838.90px;font-size:21px;line-height:27px;height:27px;letter-spacing:1.200px;word-spacing:5.672px;transform:matrix(1.0,-0.00800,0,1.06,0,0);color:#333;">items with the steering wheel pad (with airbag) re-</div>
<div class="t" style="left:600.85px;top:869.24px;font-size:21px;line-height:27px;height:27px;letter-spacing:1.200px;word-spacing:3.139px;transform:matrix(1.0,-0.00800,0,1.06,0,0);color:#333;">moved from the vehicle.</div>
<div class="t" style="left:651.20px;top:899.58px;font-size:21px;line-height:27px;height:27px;letter-spacing:1.200px;word-spacing:0.924px;transform:matrix(1.0,-0.00800,0,1.06,0,0);color:#333;">Check for cuts and cracks in, or marked discolor-</div>
<div class="t" style="left:651.45px;top:929.92px;font-size:21px;line-height:27px;height:27px;letter-spacing:1.200px;word-spacing:3.540px;transform:matrix(1.0,-0.00800,0,1.06,0,0);color:#333;">ation of the steering wheel pad top surface and</div>
<div class="t" style="left:651.70px;top:960.26px;font-size:21px;line-height:27px;height:27px;letter-spacing:1.200px;word-spacing:5.031px;transform:matrix(1.0,-0.00800,0,1.06,0,0);color:#333;">grooved portion.</div>
<div class="t" style="left:651.95px;top:990.60px;font-size:21px;line-height:27px;height:27px;letter-spacing:1.200px;word-spacing:8.379px;transform:matrix(1.0,-0.00800,0,1.06,0,0);color:#333;">Check for cuts and cracks in, or chipping of</div>
<div class="t" style="left:652.20px;top:1020.94px;font-size:21px;line-height:27px;height:27px;letter-spacing:1.200px;word-spacing:2.530px;transform:matrix(1.0,-0.00800,0,1.06,0,0);color:#333;">connectors and wire harness.</div>
<div class="t" style="left:652.45px;top:1051.28px;font-size:21px;line-height:27px;height:27px;letter-spacing:1.200px;word-spacing:2.022px;transform:matrix(1.0,-0.00800,0,1.06,0,0);color:#333;">Check for deformation of the horn button contact</div>
<div class="t" style="left:652.69px;top:1081.62px;font-size:21px;line-height:27px;height:27px;letter-spacing:1.200px;word-spacing:2.302px;transform:matrix(1.0,-0.00800,0,1.06,0,0);color:#333;">plate of the steering wheel.</div>
<div class="t" style="left:602.84px;top:1113.20px;font-size:21px;line-height:27px;height:27px;letter-spacing:1.964px;word-spacing:0.000px;transform:matrix(1.0,-0.00800,0,1.0,0,0);color:#333;">HINT:</div>
<div class="t" style="left:653.19px;top:1142.30px;font-size:21px;line-height:27px;height:27px;letter-spacing:1.200px;word-spacing:5.142px;transform:matrix(1.0,-0.00800,0,1.06,0,0);color:#333;">If the horn button contact plate of the steering</div>
<div class="t" style="left:653.44px;top:1172.64px;font-size:21px;line-height:27px;height:27px;letter-spacing:1.200px;word-spacing:6.592px;transform:matrix(1.0,-0.00800,0,1.06,0,0);color:#333;">wheel is deformed, never repair it. Always re-</div>
<div class="t" style="left:653.69px;top:1202.98px;font-size:21px;line-height:27px;height:27px;letter-spacing:1.200px;word-spacing:6.070px;transform:matrix(1.0,-0.00800,0,1.06,0,0);color:#333;">place the steering wheel assembly with a new</div>
<div class="t" style="left:653.94px;top:1233.32px;font-size:21px;line-height:27px;height:27px;letter-spacing:-0.070px;word-spacing:0.000px;transform:matrix(1.0,-0.00800,0,1.06,0,0);color:#333;">one.</div>
<div class="t" style="left:654.19px;top:1263.66px;font-size:21px;line-height:27px;height:27px;letter-spacing:1.200px;word-spacing:8.634px;transform:matrix(1.0,-0.00800,0,1.06,0,0);color:#333;">There should be no interference between the</div>
<div class="t" style="left:654.44px;top:1294.00px;font-size:21px;line-height:27px;height:27px;letter-spacing:1.200px;word-spacing:3.716px;transform:matrix(1.0,-0.00800,0,1.06,0,0);color:#333;">steering wheel pad and the steering wheel, and</div>
<div class="t" style="left:654.69px;top:1324.34px;font-size:21px;line-height:27px;height:27px;letter-spacing:1.200px;word-spacing:9.407px;transform:matrix(1.0,-0.00800,0,1.06,0,0);color:#333;">the clearance should be uniform all the way</div>
<div class="t" style="left:654.93px;top:1354.68px;font-size:21px;line-height:27px;height:27px;letter-spacing:1.200px;word-spacing:4.156px;transform:matrix(1.0,-0.00800,0,1.06,0,0);color:#333;">around when the new steering wheel pad is in-</div>
<div class="t" style="left:655.18px;top:1385.02px;font-size:21px;line-height:27px;height:27px;letter-spacing:1.200px;word-spacing:2.003px;transform:matrix(1.0,-0.00800,0,1.06,0,0);color:#333;">stalled on the steering wheel.</div>
<div class="t" style="left:605.41px;top:1416.97px;font-size:19.5px;line-height:25px;height:25px;letter-spacing:0.836px;word-spacing:3.510px;transform:matrix(1.0,-0.00800,0,1.06,0,0);color:#333;font-weight:bold;">CAUTION: For removal and installation of the steering</div>
<div class="t" style="left:605.66px;top:1447.31px;font-size:19.5px;line-height:25px;height:25px;letter-spacing:0.836px;word-spacing:4.069px;transform:matrix(1.0,-0.00800,0,1.06,0,0);color:#333;font-weight:bold;">wheel pad, see page RS—18, ″STEERING WHEEL PAD</div>
<div class="t" style="left:605.91px;top:1478.80px;font-size:19.5px;line-height:25px;height:25px;letter-spacing:0.836px;word-spacing:8.403px;transform:matrix(1.0,-0.00800,0,1.0,0,0);color:#333;font-weight:bold;">AND SPIRAL CABLE REMOVAL AND INSTALLATION″</div>
<div class="t" style="left:606.16px;top:1507.99px;font-size:19.5px;line-height:25px;height:25px;letter-spacing:0.836px;word-spacing:0.871px;transform:matrix(1.0,-0.00800,0,1.06,0,0);color:#333;font-weight:bold;">and be sure to follow the correct procedure.</div>
<div class="bl" style="left:597.50px;top:394.40px"></div>
<div class="bl" style="left:601.50px;top:910.10px"></div>
<div class="bl" style="left:602.25px;top:1001.12px"></div>
<div class="bl" style="left:602.75px;top:1061.80px"></div>
<div class="bl" style="left:603.49px;top:1152.82px"></div>
<div class="bl" style="left:604.49px;top:1274.18px"></div>
<div class="tab"><svg viewBox="0 0 76 41.6"><g transform="translate(34.2,30.5) scale(0.84,1)" font-family="Liberation Sans, sans-serif" font-size="25" font-weight="bold" letter-spacing="0.8"><text x="0" y="0" fill="#f3f3f3" stroke="none">RS</text><text x="0" y="0" fill="none" stroke="#2c2c2c" stroke-width="2.3" stroke-linejoin="round">RS</text></g></svg></div>
</div>
</body></html>
